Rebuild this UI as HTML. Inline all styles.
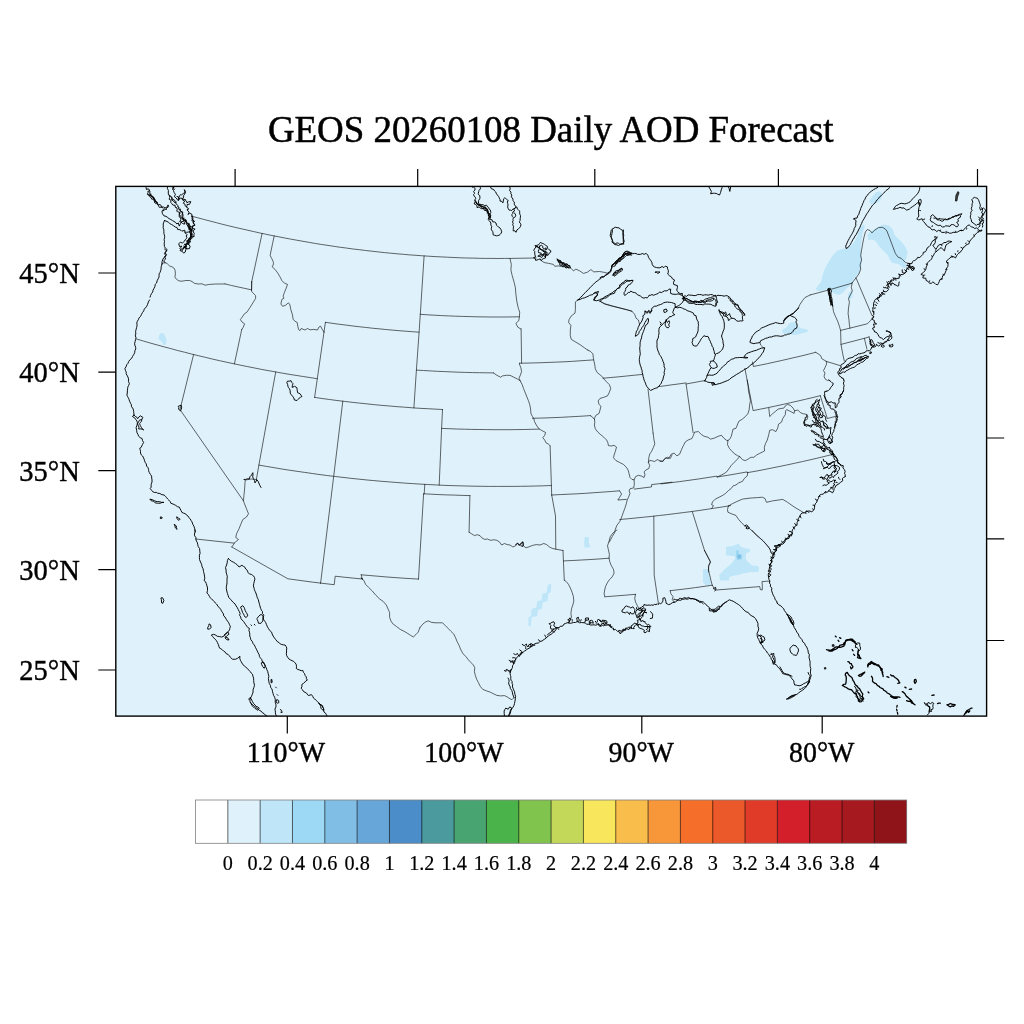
<!DOCTYPE html>
<html lang="en"><head><meta charset="utf-8"><title>GEOS 20260108 Daily AOD Forecast</title>
<style>
html,body{margin:0;padding:0;background:#fff;}
body{width:1024px;height:1024px;overflow:hidden;}
svg{display:block;}
text{font-family:"Liberation Serif","Times New Roman",serif;fill:#000;}
.st{fill:none;stroke:#000;stroke-width:0.6;stroke-linejoin:round;stroke-linecap:round;vector-effect:non-scaling-stroke;}
.co{fill:none;stroke:#000;stroke-width:0.95;stroke-linejoin:round;stroke-linecap:round;vector-effect:non-scaling-stroke;}
.ck{fill:none;stroke:#000;stroke-width:1.3;stroke-linejoin:round;stroke-linecap:round;}
.bl{fill:#000;fill-opacity:0.7;stroke:#000;stroke-width:0.7;stroke-linejoin:round;vector-effect:non-scaling-stroke;}
.a2{fill:#BEE6F8;stroke:none;}
.a3{fill:#9DD9F5;stroke:none;}
.a4{fill:#81BEE5;stroke:none;}
.tk{stroke:#000;stroke-width:1.2;fill:none;}
</style></head>
<body>
<svg width="1024" height="1024" viewBox="0 0 1024 1024">
<rect x="0" y="0" width="1024" height="1024" fill="#fff"/>
<text x="550.7" y="141.9" font-size="36.9" text-anchor="middle" stroke="#000" stroke-width="0.5">GEOS 20260108 Daily AOD Forecast</text>
<clipPath id="mapclip"><rect x="115.8" y="186.4" width="870.80" height="529.70"/></clipPath>
<rect x="115.8" y="186.4" width="870.80" height="529.70" fill="#DFF2FC"/>
<g clip-path="url(#mapclip)">
<path class="a2" d="M160.2 333.2L163.5 333.2L165.2 336.2L166.5 340.0L166.0 344.5L163.5 345.0L162.0 342.0L158.5 338.8L159.0 335.5Z"/>
<path class="a2" d="M726.0 546.9L735.0 545.9L738.8 544.1L741.0 546.9L746.3 548.8L750.0 549.7L749.6 552.1L746.3 552.5L745.3 557.2L746.3 560.9L749.1 562.8L751.9 565.6L757.5 566.0L759.0 568.4L758.4 572.0L721.9 572.0L726.6 567.5L730.3 564.7L733.5 560.9L735.9 558.1L735.0 554.4L731.3 553.4L726.6 552.9ZM703.1 569.0L708.4 569.0L708.4 572.0L703.1 572.0Z"/>
<path class="a2" d="M815.7 288.8L818.1 285.4L821.3 281.6L822.3 276.0L824.1 270.4L826.9 264.8L829.8 260.1L833.5 254.4L837.3 250.7L842.9 248.8L848.5 247.9L854.1 242.3L856.9 236.6L858.8 231.0L860.7 226.3L863.5 224.4L865.0 226.3L862.6 232.9L861.6 240.4L860.7 247.9L861.3 255.4L861.6 262.9L860.7 268.5L858.8 273.2L856.0 276.0L852.3 281.6L850.4 285.4L846.6 288.2L842.9 292.9L839.1 294.8L834.4 293.8L831.6 291.0L826.9 289.1L821.3 291.0L817.6 291.0ZM867.3 234.8L870.1 231.9L874.8 229.1L879.4 226.3L884.1 224.4L888.8 225.4L892.6 229.1L894.4 234.8L898.2 238.5L901.9 242.3L904.8 246.0L907.6 251.6L906.6 257.3L904.8 261.9L906.6 266.6L903.8 268.5L901.0 265.7L897.3 263.8L892.6 262.9L889.8 260.1L887.9 255.4L884.1 251.6L880.4 247.9L877.6 244.1L874.8 240.4L871.0 239.4L868.2 240.4ZM869.1 201.0L871.9 197.3L875.7 192.6L879.4 191.3L882.3 193.5L881.3 198.2L878.5 201.9L874.8 203.8L871.0 204.8ZM848.1 293.8L850.4 291.0L852.6 291.9L852.3 296.6L850.4 299.4L848.1 298.5Z"/>
<path class="a2" d="M726.0 546.9L731.3 546.5L737.8 544.1L740.6 546.9L745.3 548.4L750.0 549.1L749.6 552.1L746.3 552.5L745.3 558.1L748.1 563.8L750.0 566.0L758.4 566.6L759.0 569.4L753.8 570.9L748.1 572.8L742.5 573.5L738.8 575.0L734.1 575.4L729.4 576.9L729.0 580.6L720.0 580.6L719.1 575.0L721.9 572.2L726.6 570.3L730.3 566.6L733.1 562.8L735.4 560.0L735.0 556.3L731.3 555.9L726.0 555.3ZM703.1 569.4L707.8 569.0L708.8 575.0L710.6 580.6L710.6 584.8L705.9 585.3L703.1 582.5L702.8 575.0Z"/>
<path class="a2" d="M549.0 584.0L551.3 584.4L550.9 591.9L548.4 593.8L547.5 601.3L542.8 602.2L541.9 608.8L538.1 609.7L537.2 616.3L531.6 617.2L531.0 625.6L528.4 626.6L528.4 617.2L531.0 616.3L531.6 608.8L536.3 607.8L537.2 601.3L541.5 600.3L542.3 593.8L546.6 592.8L547.5 586.3ZM584.6 537.1L588.8 537.1L589.1 543.1L590.3 547.3L584.6 547.8L584.1 543.1Z"/>
<path class="a2" d="M782.5 329.4L786.2 327.5L789.4 323.1L792.5 321.9L796.2 323.1L797.5 326.2L800.6 328.1L805.0 329.0L808.5 330.2L806.2 332.5L802.5 333.1L798.8 334.4L795.0 335.0L791.9 334.4L789.4 333.8L785.0 334.0L782.2 332.5Z"/>
<path class="a3" d="M735.9 551.0L738.8 550.6L739.1 554.4L742.1 554.8L742.1 558.1L737.3 558.5L736.5 555.3Z"/>
<path class="a3" d="M735.9 550.6L738.8 550.3L739.1 554.4L741.6 554.8L741.6 559.6L736.9 560.0L736.1 555.3Z"/>
<path class="a4" d="M737.8 554.8L741.0 554.8L741.0 557.8L737.8 557.8Z"/>
<path class="a4" d="M737.4 554.8L741.0 554.8L741.0 558.5L737.4 558.5Z"/>
<path class="st" d="M162.0 264.0L163.2 263.0L165.8 262.8L167.6 264.0L169.5 265.9L172.0 266.8L173.9 268.0L175.1 270.2L175.4 274.0L174.9 277.1L176.4 279.2L178.9 280.9L182.0 281.2L185.8 280.5L189.5 280.5L192.0 281.5L194.5 283.4L198.2 284.0L202.0 283.8L205.1 285.2L209.5 284.4L215.8 284.0L222.0 284.0L225.0 283.9"/>
<path class="st" d="M251.7 281.7L251.5 291.2L253.8 293.8L255.6 295.6L255.6 298.5L253.1 302.5L250.0 307.5L246.9 312.2L244.4 313.8L241.9 317.5L240.4 319.6L241.9 321.9L244.6 323.8L243.1 327.5L241.7 329.6M251.6 289.9L251.7 281.7M274.2 235.9L272.5 243.8L270.6 253.1L270.2 255.6L271.9 258.8L273.5 262.5L273.1 265.6L271.9 266.5L275.0 269.4L277.8 273.1L280.0 276.9L281.9 280.6L284.4 283.1L287.5 284.4L286.2 288.1L284.4 292.5L283.1 296.2L284.0 298.1L281.9 299.4L280.9 304.0L282.5 306.2L285.0 305.6L288.5 302.8L290.0 305.0L290.6 308.8L292.5 315.0L293.1 319.4L295.0 321.2L297.2 322.5L297.8 326.2L298.5 329.4L300.0 330.6L301.2 328.5L305.0 330.0L307.5 328.5L310.0 329.8L313.8 329.4L317.5 330.0L318.8 327.2L320.6 326.2L321.9 328.8L324.0 332.1"/>
<path class="st" d="M256.3 480.0L257.0 479.5L251.5 479.0L245.2 480.0L244.5 490.0L243.4 500.8L244.5 503.8L246.5 508.8L248.5 513.8L246.5 517.0L242.8 519.5L241.0 523.8L239.0 528.8L236.5 533.8L235.8 537.5L238.5 539.5L234.1 543.1L234.0 543.8L231.8 547.0"/>
<path class="st" d="M541.3 260.6L544.1 262.5L548.8 263.4L553.4 264.4L554.8 266.3L558.1 265.9L561.9 266.6L569.4 267.2L571.3 268.5L573.5 270.9L575.9 269.1L579.7 270.9L583.4 273.4L587.2 272.3L590.9 269.6L593.8 271.9L599.4 271.5L604.1 272.3L607.4 273.2M510.0 258.4L511.3 264.4L510.9 270.0L512.2 275.6L514.1 282.2L515.4 287.8L515.9 294.4L516.9 301.9L518.4 308.4L519.7 312.2L519.4 316.8L518.8 320.6L515.9 323.4L517.8 327.2L521.0 329.1L521.1 329.0M577.8 300.0L575.4 301.9L575.4 309.4L575.0 313.1L571.3 315.9L569.0 319.7L568.6 322.5L570.9 325.3L570.3 330.0L570.3 335.6L571.3 339.4L575.9 342.2L580.6 345.0L584.4 347.8L588.1 350.3M599.4 300.9L605.0 303.8L612.5 306.0L620.0 307.9L627.5 309.8L632.0 311.3"/>
<path class="st" d="M600.0 301.3L604.7 304.1L611.3 305.9L618.8 307.8L626.3 309.7L631.9 311.2L634.7 314.4L636.0 318.1L638.4 320.0L639.4 323.8"/>
<path class="st" d="M519.6 363.2L519.4 364.1L520.9 367.8L521.6 371.6L520.3 375.3L519.0 378.1L520.3 380.9M493.4 372.9L496.9 375.3L500.6 377.2L502.5 375.9L506.3 375.3L510.0 375.3L513.8 377.2L517.5 379.1L520.3 380.9L522.2 384.7L523.5 388.4L525.4 393.1L526.9 396.9L528.4 400.6L529.7 404.4L530.6 409.1L531.0 413.8L532.5 416.6L533.8 418.4L534.4 421.3L536.3 425.0L538.1 427.8L540.4 429.7L542.8 431.0L545.6 432.5L544.7 435.3L542.8 437.8L544.7 440.0L546.0 442.8L548.4 444.1L550.1 445.8M590.3 415.6L592.5 417.1L594.4 419.4M619.7 491.0L621.6 494.0L619.7 497.2L617.8 500.0L626.3 499.4M587.8 350.0L590.6 351.5L592.9 353.8L593.4 358.4L594.0 361.3L594.8 365.0L595.3 368.8L597.2 372.5L600.0 374.8L602.8 377.2L604.1 379.1L606.6 381.9L609.4 384.7L610.7 388.4L609.4 392.2L607.5 395.9L603.8 397.3L600.0 398.4L598.1 401.0L599.1 404.4L600.9 406.3L600.0 410.0L599.1 413.4L595.9 415.3L594.4 418.4L594.8 422.2L594.4 425.0L595.3 428.8L597.8 432.1L600.9 434.8L603.8 437.2L606.6 440.0L607.9 442.8L608.4 445.6L611.3 446.0L614.1 445.3L616.5 447.1L615.4 451.3L614.1 455.0L613.5 457.8L615.9 460.6L619.7 462.5L623.4 464.4L626.3 467.2L628.1 470.0L629.1 473.8L630.0 477.5L631.9 479.4L634.1 479.8L634.3 484.1L633.8 487.8L630.0 488.8L629.1 491.0L630.0 493.4L628.5 497.2L627.2 500.0L626.3 503.8L624.8 508.4L623.4 512.2L622.1 515.9L621.0 518.8L619.7 521.6L616.9 525.3L615.4 529.1L614.6 532.8L612.2 536.6L610.3 540.3L609.4 542.0M634.1 479.8L635.6 476.6L638.4 475.3L641.3 476.0L644.1 477.5L645.0 474.7L644.1 471.9L645.9 470.0L648.8 468.5L649.7 465.3L648.4 462.5L649.7 460.6L651.6 460.6L654.4 461.6L657.2 459.7L660.0 460.6L662.8 461.6L664.7 458.8L667.5 457.3L670.3 458.4L672.0 455.0M653.1 433.2L654.0 440.0L654.8 443.8L653.4 447.5L651.6 451.3L649.7 454.1L648.8 457.8L648.4 462.5M634.3 489.1L651.6 486.9L651.6 484.6L672.0 482.2"/>
<path class="st" d="M660.0 461.6L662.8 461.0L665.6 457.8L668.4 458.8L671.3 454.1L674.1 453.1L676.9 455.9L679.7 454.1L681.6 449.4L683.4 445.6L685.3 441.9L688.1 440.0L691.9 438.5L693.4 435.3L694.7 432.1L698.4 431.6L701.3 434.4L704.1 436.3L707.8 437.2L710.6 439.1L714.4 438.1L718.1 436.3L721.5 435.3L723.8 438.1L726.6 440.4L727.9 440.4L729.4 439.6L731.3 436.3L732.2 432.5L733.1 429.1L735.9 428.4L737.3 425.0L738.8 421.3L742.5 419.0L745.3 416.6L747.8 413.8L749.1 410.0L749.6 405.3L750.4 400.6L749.6 395.9L748.5 391.3L748.1 385.6L747.2 380.0M727.9 440.4L727.5 444.7L729.4 448.4L732.2 451.6L735.0 454.1L737.8 455.9L739.7 456.5L736.9 459.7L734.1 462.5L731.3 465.3L729.4 468.1L726.6 471.9L723.8 473.8L720.0 475.6L717.2 477.1M739.7 456.5L742.5 459.7L745.3 460.6L748.1 459.1L750.9 457.3L753.8 457.3L756.6 455.0L759.4 453.5L762.2 452.2L764.6 450.9L764.3 447.5L765.4 443.8L767.3 440.0L768.8 434.4L769.7 430.3L772.5 429.7L775.9 431.6L777.8 427.8L778.5 424.1L781.5 422.2L782.8 418.4L785.3 414.7L785.6 410.9L786.6 409.6L789.4 410.9L791.3 411.9L794.1 413.4L794.6 410.9M768.8 408.1L769.7 416.6L772.5 413.8L775.3 411.5L778.1 409.1L780.9 408.5L783.8 408.1L785.3 405.9L787.5 404.4L790.3 405.3L793.1 408.1L794.6 410.9L797.8 410.0L800.6 412.8L803.4 413.8L806.3 414.3L807.8 416.6L807.2 419.4L805.3 420.3M747.8 472.3L747.2 476.0L744.4 478.4L742.5 481.3L738.8 482.8L735.9 485.0L733.1 485.9L731.3 488.4L728.4 490.6L725.6 493.4L722.8 495.3L719.1 497.2L715.3 499.1L712.5 501.9L711.6 504.7L713.4 505.6L712.1 507.9L711.6 508.4M728.4 506.0L732.2 503.8L736.9 501.5L742.5 499.1L750.0 498.1L757.5 497.6L762.2 497.2L765.0 498.5L766.5 502.3L772.5 500.9L782.8 499.4L787.5 502.3L795.0 507.5L804.0 512.8M728.4 506.0L727.5 509.4L727.9 512.2L732.2 514.1L735.9 515.4L738.8 519.7L742.1 523.4L745.3 526.3L748.1 527.2L750.9 530.0L753.8 532.8L756.6 535.6L760.3 538.4L763.1 540.9L765.9 544.1L768.4 546.9L770.3 549.7L771.0 552.9L773.4 554.4M704.5 550.4L710.3 561.5L708.4 566.6L708.8 572.0"/>
<path class="st" d="M851.7 283.3L856.0 277.9L858.8 274.1L860.7 269.4L860.1 264.8L861.6 260.1L860.7 255.4L861.6 249.8L862.6 244.1L863.9 237.6L865.4 231.9L867.3 229.5L870.1 230.6L871.9 232.9L874.8 230.1L878.5 227.6L882.3 227.3L885.1 228.8L886.9 231.0L889.8 238.5L892.6 246.0L895.4 253.5L898.2 257.3L901.0 258.2L902.9 260.1L905.7 262.5L908.5 263.3M856.0 277.9L871.9 315.4M852.3 282.6L851.3 287.3L852.3 291.0L850.4 294.8L848.5 298.5L849.4 302.3L848.5 307.9L848.1 313.5L848.9 319.1L849.4 324.8L850.0 328.1M832.6 306.0L833.5 311.6L835.4 316.3L837.6 321.0L839.5 326.6L840.6 330.4L850.0 328.1L867.3 323.8L871.0 320.1L872.5 317.3M840.6 330.4L841.0 344.4L842.9 354.8L844.4 361.3M841.0 344.4L864.4 338.3L869.1 336.9M864.4 338.3L866.9 349.1M869.1 336.9L871.0 343.5M826.0 361.3L840.1 365.6"/>
<path class="st" d="M616.9 530.0L613.1 532.8L610.3 536.6L609.0 541.3L607.5 545.9L608.4 549.7L609.4 554.4L609.0 558.1L609.8 561.9L611.3 565.6L613.5 569.4L614.1 573.1L612.2 576.9L609.4 579.7L607.5 582.5L605.6 586.3L604.7 590.0L604.1 593.8L604.7 596.0M635.5 594.3L634.7 598.4L635.6 602.2L637.5 605.9L639.0 608.8M670.2 590.7L670.9 593.8L673.1 596.6L672.2 599.4L674.1 602.2M704.5 550.4L710.6 562.3L708.8 565.6L708.4 570.3L709.7 575.0L711.0 580.6L712.1 584.8L713.4 587.2L714.4 589.6L716.3 590.0L759.8 586.6L760.3 589.6L762.2 590.0L762.4 586.3L762.0 581.6L769.7 581.0M751.9 530.0L755.6 533.8L759.4 537.5L763.5 541.3L766.9 545.0L769.7 548.8L771.6 553.4L774.4 554.4"/>
<path class="st" d="M469.1 532.3L471.6 533.8L474.4 535.6L477.2 534.7L480.0 535.6L481.9 537.9L484.7 539.4L487.5 539.0L490.3 540.3L494.1 539.8L496.9 540.3L499.7 542.2L501.6 545.0L504.4 543.5L507.2 544.6L510.0 545.0L512.8 546.9L515.6 545.9L517.5 543.5L520.3 545.0L522.8 542.2L523.5 545.9L525.9 547.8L528.8 546.9L532.5 545.4L536.3 544.6L540.0 545.0L543.8 543.5L546.6 544.6L549.4 546.9L552.2 548.4L555.4 549.1L563.0 550.5M564.3 580.2L566.3 581.6L568.5 584.4L570.4 588.1L572.3 592.8L573.4 596.6L573.8 601.3L572.8 605.0L571.5 608.8L570.9 613.4L571.5 617.2L570.0 620.0L568.5 622.8M361.2 574.8L362.3 579.0M420.0 627.5L422.8 624.1L425.6 621.9L428.4 620.9L431.3 622.3L435.0 622.8L438.8 622.8L442.5 622.8L445.3 625.6L448.1 628.4L450.9 631.3L453.8 634.1L455.6 637.8L457.1 641.6L459.0 645.3L460.9 650.0L463.1 653.8L465.9 656.6L468.4 659.8L470.6 662.2L473.4 665.0L474.8 667.8L474.4 671.6L475.3 675.3L476.6 679.1L478.5 682.8L480.4 686.6L482.8 689.4L486.6 690.9L490.3 692.2L494.1 694.1L496.9 695.4L500.6 695.9L504.4 695.6L507.2 696.9L510.0 698.8L511.9 699.7L513.8 697.8"/>
<path class="st" d="M798.1 308.1L798.8 306.9L800.0 304.4L802.5 300.6L805.0 297.5L810.3 294.9M760.0 342.5L760.6 345.0L762.5 346.9L764.4 348.1M815.7 352.3L818.1 353.8L820.6 355.6L821.9 358.8L825.0 360.6L826.9 361.9L826.2 365.0L825.0 367.5L823.5 370.6L825.0 373.1L824.0 376.2L825.0 378.8L827.5 380.6L828.8 380.0"/>
<path class="st" d="M362.3 579.0L360.9 577.8L363.8 580.3L365.6 584.4L368.4 587.2L372.2 590.9L375.9 595.3L379.7 599.0L383.4 601.6L386.3 605.0L388.1 609.1L389.6 612.5L389.6 617.2L390.9 620.9L392.8 623.8L396.6 626.6L400.3 629.4L404.1 631.3L407.8 633.5L410.6 635.4L413.4 636.9L415.9 634.6L418.1 632.2L420.0 627.5"/>
<path class="co" d="M145.5 186.8L146.2 187.4L146.4 189.5L148.0 188.9L149.2 189.4L149.5 191.1L147.9 191.2L148.1 192.6L147.4 194.2L148.7 195.6L150.2 195.3L152.1 196.7L153.4 197.0L154.5 198.8L154.5 200.3L156.4 201.6L156.4 203.5L157.8 204.4L158.7 206.2L159.4 207.4L161.3 207.1L163.6 207.0L165.0 208.0L167.4 206.7L168.0 204.9L168.7 206.6L166.4 208.3L166.5 209.5L163.7 208.8L163.9 210.8L162.4 210.2L162.0 212.0L162.5 213.8L164.0 215.9L166.0 216.3L167.7 217.5L169.1 218.7L170.9 219.5L172.4 220.5L174.0 221.5L175.6 222.4L176.8 224.0L178.4 222.9L179.2 226.1L180.6 223.6L181.3 222.4L179.7 221.7L180.8 219.8L180.7 217.7L179.2 217.0L179.3 214.6L180.2 212.6L177.6 211.7L176.7 211.2L177.2 209.7L176.8 207.7L175.1 207.2L175.2 205.3L172.8 205.0L171.6 203.4L170.8 202.5L170.9 200.2L169.1 199.2L169.7 197.5L169.6 196.0L168.3 194.2L168.3 192.0L168.4 190.6L167.4 188.3L167.5 186.8M148.2 194.6L150.1 194.9L149.7 196.7L151.0 197.4L151.6 199.1L153.1 199.1L154.4 201.0L154.5 202.5L155.8 203.4M150.8 194.0L150.6 195.7L152.3 197.0L153.6 198.0L155.0 199.7L155.2 201.5L156.4 202.1M172.0 186.8L173.4 187.2L172.8 189.7L173.0 187.9L174.5 186.8M174.5 189.0L173.5 190.5L174.0 192.3L175.4 194.3L174.4 196.6L176.0 197.8L177.0 199.2L178.3 200.7L179.2 199.6L179.6 198.5L178.7 197.6L179.7 195.7L180.3 194.7L181.4 194.9L183.4 193.4L184.5 193.3L184.9 192.0L184.3 189.6L185.5 191.4L185.4 191.9L185.2 193.2L183.9 195.2L183.0 196.2L183.8 196.7L182.5 199.1L185.5 199.6L185.8 201.0L187.2 202.2L186.7 202.8L188.4 201.9L190.8 201.6L189.6 204.3L187.1 204.5L187.0 205.6L186.5 207.2L188.8 208.9L187.0 209.8L189.1 212.3L187.9 214.5L189.7 213.2L191.9 214.3L192.0 216.2M170.8 196.5L171.9 197.7L171.7 200.0L173.3 200.8L174.5 202.5L176.4 202.1M177.0 196.5L178.4 196.8L178.3 200.2L179.2 198.1L180.5 198.2L182.2 198.3L182.4 199.9L184.7 201.0L183.3 203.2L185.0 204.2L185.1 205.8L187.0 207.1M164.5 220.5L167.0 221.5L168.6 222.3L169.7 223.6L171.6 224.5L173.4 225.6L175.2 227.0L177.0 227.5L177.7 229.6L178.9 229.4L181.0 230.3L181.9 231.2L184.7 230.2L184.9 232.2L186.6 232.3L188.5 232.0L190.6 230.6L191.6 229.5L192.6 228.4L192.2 226.4L194.0 225.7L194.6 224.6L193.0 222.1L193.6 220.0L192.1 219.4L192.1 217.8L192.0 216.2M192.0 216.2L193.1 218.1L191.8 220.7L194.6 221.3L193.0 222.9L194.9 225.3L192.1 226.2L192.3 226.9L192.5 228.4L195.1 229.1L193.2 230.7L193.4 232.0L194.3 233.5L193.9 234.7L194.0 236.9L193.1 236.3L192.7 237.6L191.1 238.9L189.9 240.0L190.4 242.1L189.0 243.1L188.3 244.1L190.1 246.1L189.5 248.6L186.7 248.8L185.8 249.4L185.2 252.1L183.9 253.1L181.7 251.2L180.1 250.7L180.6 249.6L179.8 248.4L180.7 247.8L181.7 246.0L179.5 246.6L179.2 245.1L178.6 243.8L180.3 242.3L182.4 243.0L184.7 241.0L185.0 240.0L185.6 239.3L186.4 238.6L186.9 237.8L186.1 235.9L187.3 234.8L186.5 234.1L184.8 232.8M180.1 209.0L180.2 211.1L182.7 211.9L182.6 214.0L183.1 214.9L182.8 216.7L182.5 217.2L182.4 218.7L183.0 219.2L184.0 221.1L180.8 221.9L182.6 223.5L184.4 224.2L184.4 222.2L185.6 221.5L186.5 222.3L187.7 223.0L188.0 223.6L188.4 222.9L189.1 223.7L189.4 224.2L187.0 225.7L189.2 226.2L191.4 226.7L189.4 229.3L190.6 230.3L192.2 230.0L190.3 230.7L189.7 232.2L190.6 233.7L192.7 234.1L190.7 235.2L190.4 237.1L191.7 237.0L191.2 237.6L189.5 238.5L189.2 239.8L186.8 240.6L187.5 243.9L184.3 244.3L186.1 245.2L186.1 246.9L183.6 246.1L187.1 248.9L184.5 247.5L183.2 249.0M179.5 212.8L179.2 214.2L179.7 215.2L181.0 216.4L181.4 217.5L182.3 218.9L183.7 219.8L184.8 221.0L186.1 222.4L186.4 224.4L187.8 225.6L188.5 226.0L189.0 227.9L188.9 229.7L192.0 230.3L189.8 232.7L190.5 233.8L190.6 235.0L191.1 237.1L189.5 238.7L188.0 240.3L188.1 241.7L187.7 243.2L185.4 244.6L185.3 245.7L184.6 247.4L182.9 247.8L182.1 248.7L180.8 249.6M182.0 216.5L182.7 217.0L183.3 219.1L183.3 220.1L186.4 220.3L186.2 221.8L186.9 223.3L187.7 224.0L189.1 224.3L190.0 225.8L189.2 228.6L192.1 229.1L191.8 231.9L191.4 233.5L191.4 235.3L191.0 237.3L189.4 238.0L188.9 238.5L188.6 240.6L187.0 241.8M164.5 220.5L163.8 222.2L163.2 224.0L163.3 225.9L163.1 227.7L163.8 229.7L163.9 231.6L163.9 233.2L164.3 234.9L164.7 236.5L164.5 238.2L164.1 239.7L164.5 241.5L164.2 243.2L164.3 245.0L164.4 246.6L165.7 248.4L167.2 249.7L165.7 251.7L164.5 253.8L166.2 255.9L164.1 257.3L163.0 259.0L162.1 261.5L162.0 264.0M164.5 249.0L166.7 250.8L165.1 252.7L166.5 254.7L164.6 256.6L165.6 259.1L163.6 260.8L165.1 262.8M162.0 264.0L161.5 265.8L161.1 267.2L161.1 269.0L160.6 270.8L160.1 272.3L159.1 273.8L159.1 275.5L159.0 277.1L158.1 278.9L157.1 280.8L156.6 283.0L155.2 284.4L154.9 286.6L154.0 288.4L153.0 290.2L152.7 292.1L151.4 293.7L150.6 295.4L150.1 297.1"/>
<path class="co" d="M149.5 300.0L148.4 301.9L147.6 304.3L146.8 306.2L145.4 307.9L144.2 309.2L143.8 310.8L142.5 312.5L141.5 314.3L140.6 316.3L138.9 318.1L138.3 319.8L137.3 321.3L136.8 323.1L137.1 325.2L136.6 327.6L136.1 329.4L135.6 331.6L135.8 333.9L135.3 335.9L136.0 337.5L135.6 339.5L135.1 341.6L134.6 343.8L135.0 345.6L135.6 347.2L135.8 348.9L134.9 350.7L134.7 352.7L133.8 354.4L132.6 356.3L131.7 358.3L130.0 359.7L128.7 361.5L128.0 363.3L126.8 364.6L126.0 366.8L124.9 368.6L125.4 370.3L126.3 372.2L126.1 373.7L127.4 375.9L128.4 378.2L128.6 380.1L128.5 381.7L129.4 383.7L128.6 385.5L127.8 387.1L127.6 388.8L127.4 390.8L127.3 393.0L126.9 395.1L127.6 396.6L128.6 398.3L129.1 399.8L129.8 401.7L130.6 403.4L131.4 404.8L131.5 406.8L132.7 408.0L133.4 409.9L133.7 411.6L133.8 413.2L134.1 415.0L132.4 416.5L134.5 417.7L135.8 419.5L136.8 420.9L137.4 422.4L137.3 424.0L136.8 425.9L136.1 427.6L136.4 429.0L136.7 430.7L137.0 432.8L138.0 434.5L138.7 436.3L140.2 437.7L142.1 438.5L142.6 440.7L143.6 442.5L142.5 444.4L141.8 446.0L141.1 447.4L139.8 448.2L140.1 449.7L140.5 451.3L140.5 453.0L141.2 454.8L142.6 456.0L143.7 458.1L144.4 460.2L145.3 462.6L146.3 463.9L146.6 466.0L147.8 467.4L148.6 469.2L148.6 470.8L149.4 472.7L150.5 474.5L151.6 476.1L151.7 478.0L152.0 479.9L152.0 482.0L151.3 483.8L151.1 485.3L151.2 487.1L150.2 488.6L151.6 490.3L152.8 491.8L154.3 492.4L156.3 492.4L157.6 493.2L159.9 493.5L161.9 494.7L164.1 495.0L165.4 496.2L166.4 497.4L167.7 499.0L168.8 500.1L170.0 501.4L170.9 503.3L173.2 504.1L175.4 505.2L177.5 506.7L179.4 507.2L180.2 509.0L180.9 510.3L181.9 512.4L183.5 513.1L185.4 513.7L186.4 515.0L187.9 515.9L188.8 517.6L190.2 518.8L191.1 520.6L192.0 521.9L192.8 524.3L194.0 526.4L194.5 528.1L195.2 530.1L195.2 532.0M134.0 415.0L135.3 416.4L136.8 417.2L137.7 418.7L138.8 417.1L140.3 415.8L142.9 417.4L141.9 419.2L141.5 421.2L140.5 422.5L139.6 423.6L140.3 425.7L141.4 427.4L142.4 429.1L143.7 429.9L142.5 429.3L140.6 428.9L138.7 429.0L139.0 427.1L138.2 425.3L137.5 423.8L138.6 421.8L139.3 420.3L141.5 419.5M150.2 499.2L152.4 499.7L154.1 500.6L156.0 501.4L157.6 501.5L159.9 501.8L161.8 502.4L163.9 502.4L162.2 502.4L160.4 503.2L158.6 503.3L157.0 503.1L155.2 502.9L153.7 501.3L151.5 500.8ZM160.8 517.0L162.1 517.3L162.1 518.2L160.7 518.5ZM177.0 517.0L178.4 518.1L180.1 519.1L179.0 520.4L177.3 519.0ZM174.5 524.5L176.3 525.9L176.5 527.7L177.1 529.4L175.4 527.9L175.0 526.3ZM178.5 406.2L181.2 405.2L181.7 407.9L180.5 410.9L178.6 409.3L178.8 407.9ZM287.8 381.2L289.5 381.1L291.0 380.7L291.7 382.3L293.0 383.7L292.4 385.5L292.1 387.4L294.6 386.3L296.8 387.6L297.1 389.1L297.3 390.8L297.5 392.6L300.1 393.8L301.0 395.2L302.0 396.3L300.6 397.3L299.2 398.1L298.1 399.4L297.0 400.5L294.4 400.0L293.8 397.9L292.7 396.4L291.3 394.7L290.2 393.1L290.2 390.9L289.5 388.8L288.5 387.6L287.9 386.2L287.7 384.7L287.0 383.0ZM244.0 479.5L245.7 479.4L247.4 478.8L249.2 479.0L250.0 476.6L251.6 475.0L252.8 472.7L253.0 474.7L252.7 476.9L253.4 478.6L254.5 480.6L255.0 482.9L256.1 481.2L257.0 479.9L258.4 481.8L259.2 484.0L260.0 485.7L261.0 487.5"/>
<path class="co" d="M472.3 187.1L473.6 187.2L475.1 188.4L474.9 190.1L473.6 191.4L474.6 193.4L473.6 194.4L474.2 196.3L475.3 197.2L475.7 198.6L474.6 200.2L475.2 201.8L474.1 203.9L475.8 204.4L477.0 205.9L477.0 207.6L479.1 206.9L480.7 208.4L481.8 208.8L483.6 208.3L484.3 210.3L486.2 210.5L487.3 212.1L487.3 213.4L488.3 214.5L488.9 216.7L488.7 218.9L490.4 219.5L491.9 219.7L492.8 221.9L494.5 221.9L496.0 223.0L496.5 225.3L497.5 226.2L498.9 227.2L500.0 228.0L500.9 229.4L501.7 231.8L501.2 233.1L500.1 234.5L499.2 235.2L497.3 235.7L496.3 235.8L494.6 235.3L493.0 234.7L493.1 233.1L492.6 231.3L491.4 229.9L491.3 228.5L491.7 226.5L490.8 224.9L490.9 223.0L489.6 221.0L488.0 219.5L488.9 218.2L489.8 216.8L490.8 215.8L490.0 213.9L490.8 212.7L490.6 211.1L490.2 209.8L489.0 208.8L488.7 207.7L487.7 206.9L486.5 205.2L484.6 205.6L483.4 204.9L481.5 204.5L479.4 204.2L478.3 203.1L478.6 202.0L478.6 200.4L479.8 198.7L479.9 197.3L479.8 195.6L478.4 194.5L478.3 193.2L478.8 191.5L479.0 190.4L480.4 188.9L480.3 187.5M475.6 200.6L476.2 202.8L477.4 204.4L479.1 204.8L480.2 206.3L481.7 206.4L482.8 206.6L484.9 207.0L485.4 208.5L487.5 209.0L487.8 211.2L488.0 213.0L489.8 214.6L490.5 215.9L490.6 217.5M476.6 202.5L477.5 204.6L479.0 205.6L480.8 205.6L481.4 207.7L482.5 208.1L484.2 208.7L485.7 208.6L487.1 209.3L488.0 211.1L488.1 212.7L489.1 213.8L488.3 215.6L489.7 216.6M490.6 187.1L491.3 188.7L493.7 189.5L494.7 191.1L495.8 192.1L496.5 193.9L497.4 195.0L498.6 196.5L499.4 198.2L500.1 199.7L500.0 201.1L501.7 201.3L502.9 202.9L503.3 200.9L503.8 198.6L504.7 197.8L505.6 198.3L506.4 199.2L508.3 200.7L507.2 202.0L507.8 203.7L508.0 205.1L507.6 207.1L508.3 208.7L509.2 210.2L510.7 210.0L511.4 210.8L512.8 209.1L514.7 208.6L515.4 207.8L516.8 206.9L517.4 209.1L518.4 210.0L519.8 211.1L519.6 212.8L519.9 214.3L520.5 215.7L520.4 217.4L520.1 219.0L520.1 220.6L519.5 221.6L519.8 223.0L521.0 224.2L520.6 226.2L519.8 227.6L518.6 228.6L517.0 229.9L516.0 232.3L514.9 230.8L513.1 230.8L513.3 229.3L513.3 228.1L513.5 226.3L512.6 224.8L513.3 223.8L512.5 222.0L513.2 220.5L512.9 219.2L513.6 217.8L512.2 216.3L511.8 214.7L512.8 213.5L512.8 212.0L514.6 210.9L513.8 209.1L515.3 207.9L515.7 206.2L514.5 204.9L514.2 203.3L514.4 202.0L512.8 200.5L513.0 199.2L512.4 198.0L511.3 196.9L511.8 195.1L510.8 193.6L511.0 192.1L509.6 190.6L510.2 188.8L509.8 187.1M514.1 212.8L515.3 213.8L515.7 215.8L514.6 217.5M535.3 245.6L536.7 245.4L538.4 244.9L539.6 243.5L540.3 242.5L542.3 243.3L543.8 243.9L544.4 244.3L545.7 245.4L547.4 246.4L547.3 248.1L548.2 248.7L549.0 249.7L550.7 250.7L550.8 252.1L549.2 253.1L548.5 254.8L547.5 255.4L545.4 255.1L545.5 258.0L543.9 258.4L542.2 259.3L541.2 260.7L540.3 258.9L538.4 259.5L536.9 260.0L535.7 260.4L535.3 258.6L533.5 257.7L535.6 256.8L534.9 254.8L534.8 254.0L534.7 252.9L534.7 251.3L533.8 250.4L534.4 249.0L535.8 247.2ZM536.6 246.6L538.2 247.3L539.4 248.1L538.9 249.7L538.3 251.4L538.5 252.6L541.3 253.2L540.2 254.8L537.8 256.2L540.1 256.4L541.6 257.6L542.7 256.2L543.3 254.0L544.7 254.3L546.1 253.4L545.3 251.4L545.0 250.5L545.5 249.2L546.7 249.7L546.0 247.9L544.3 248.8L542.6 247.7L542.9 246.4L541.5 245.3L540.0 246.0L539.4 245.9L539.6 247.9L540.8 248.8L541.7 250.2L542.7 250.5L544.0 251.8L544.9 252.4L544.5 253.6L543.0 254.2L542.2 255.0M557.2 258.8L558.0 260.0L558.4 262.2L561.1 262.0L562.3 263.4L563.8 263.1L564.7 264.8L566.4 264.0L567.4 265.2L569.4 265.6L570.6 267.6L569.1 268.0L567.8 267.5L565.9 268.0L564.2 265.9L562.6 266.7L562.0 265.2L559.9 265.2L559.6 263.2L559.0 262.1L557.8 260.6M558.1 259.7L559.0 260.9L559.6 261.6L560.8 262.3L562.5 263.3L563.1 265.3L565.2 265.3L566.6 265.4L567.1 267.4L568.4 267.3L569.9 265.8L568.2 265.5L567.2 263.9L565.7 264.0L563.8 262.7L562.3 262.5L561.4 261.6L560.0 260.3M577.8 300.0L579.4 298.7L580.7 297.2L582.3 295.8L583.7 294.1L585.4 292.5L586.9 291.0L588.3 289.4L590.0 287.8L591.5 286.2L593.1 284.6L594.6 283.0L596.1 281.8L597.8 280.6L599.3 279.4L600.9 278.5L601.8 277.3L603.8 277.0L605.0 275.7L606.5 274.5L607.9 272.7L610.0 271.8L610.7 269.8L611.7 267.9L611.6 266.2L612.8 264.6L614.1 263.4L614.9 262.3L616.4 261.0L618.4 261.2L619.5 259.3L621.0 257.7L622.4 256.7L622.9 254.8L623.6 253.6L624.7 252.1L626.1 251.3L627.3 251.1L629.1 252.2L630.5 253.1L632.0 253.1M612.5 265.3L614.3 263.7L616.7 263.8L617.3 261.6L619.0 260.5L620.1 259.8L622.0 258.8L623.3 257.4L624.4 255.4L625.7 254.4L627.4 253.5L629.2 254.6L631.6 255.1L629.7 253.6L627.6 252.9L625.9 253.8L623.9 253.8L622.4 255.5L621.2 257.0L619.4 258.4L617.9 259.3L616.6 260.9L615.3 262.1M577.8 300.0L580.2 299.4L582.3 298.3L584.4 297.9L586.2 297.1L588.1 296.3L589.5 295.4L591.2 294.9L592.8 294.6L594.7 292.5L596.6 292.1L598.6 291.4L597.6 293.4L597.3 295.4L596.0 296.3L594.7 297.2L593.7 300.1L596.7 300.8L599.4 299.9L601.2 298.9L603.4 298.3L604.5 296.8L606.4 296.1L608.3 295.1L609.4 294.2L611.1 293.4L612.8 292.4L614.2 291.0L615.9 290.3L616.7 289.1L618.5 287.9L619.6 286.8L619.5 285.1L620.9 284.4L622.0 282.9L623.5 282.7L624.6 280.9L626.3 280.1L628.5 280.6L630.1 280.7L632.0 280.3M593.8 293.4L596.4 292.6L597.4 294.8L596.6 296.4L595.3 297.9L594.1 300.0M613.4 273.8L614.3 272.4L616.2 272.6L617.4 271.6L618.6 270.1L620.1 269.3L621.7 268.1L622.7 270.0L621.4 271.0L619.7 272.1L618.3 273.0L616.7 274.5L614.5 276.0ZM612.5 228.8L614.0 228.1L615.2 227.2L617.1 227.7L619.0 227.9L620.7 229.3L622.8 230.5L623.0 233.0L623.8 235.2L623.1 237.6L623.3 240.0L623.3 242.0L623.8 244.2L621.8 243.6L619.9 244.4L618.6 243.3L617.1 242.9L615.4 243.6L613.5 242.7L612.6 241.0L611.8 238.9L611.0 237.2L611.6 235.3L612.0 233.3L612.4 231.1Z"/>
<path class="co" d="M611.3 230.0L610.9 231.8L610.5 233.8L610.2 235.7L611.4 237.4L612.1 239.5L612.5 240.7L611.9 241.9L613.2 243.3L614.9 244.6L617.0 244.9L618.5 245.5L620.4 244.4L622.2 244.2L623.1 243.3L624.2 241.7L623.7 239.4L623.3 237.2L622.8 234.7L623.3 232.3L623.4 230.0M600.0 277.8L601.6 276.7L603.8 276.6L605.5 275.2L607.5 274.5L609.2 273.1L610.9 271.5L611.3 269.7L611.9 267.5L611.8 266.0L612.3 264.6L614.1 264.2L614.8 262.9L616.7 261.9L617.4 260.8L618.3 259.5L619.6 258.3L621.6 256.9L622.9 255.6L623.4 253.8L624.3 252.4L626.2 251.7L628.0 252.2L629.8 252.1L631.4 253.6L632.7 253.7L634.6 253.4L636.0 253.5L637.4 254.3L639.0 254.4L640.8 254.3L642.2 253.5L644.2 254.3L646.2 253.4L647.8 255.1L648.5 257.3L649.5 258.9L650.9 260.7L651.9 262.4L652.1 264.2L653.0 265.9L654.7 267.0L656.4 267.5L658.0 267.8L659.9 267.8L662.1 266.5L663.9 267.6L665.3 266.1L667.4 266.9L667.6 268.8L668.3 270.5L668.3 272.2L667.7 274.0L669.6 275.8L671.5 277.0L672.3 278.7L674.6 280.0L673.5 282.3L673.6 284.3L675.0 284.9L677.4 285.6L677.4 287.7L676.7 290.1L677.5 291.4L678.8 292.9L680.3 293.6L682.4 293.4L682.2 295.3L683.4 296.6M611.6 266.6L612.8 265.0L614.0 263.5L615.2 263.0L616.7 262.4L617.3 260.6L618.7 259.3L619.7 258.2L621.7 257.8L622.7 256.3L623.8 255.3L624.6 254.2L626.3 253.8L627.8 254.3L629.9 254.1L632.0 253.1L630.4 254.3L628.3 255.4L626.5 255.5L625.3 256.6L624.3 257.5L622.8 258.9L621.0 259.5L620.6 261.2L618.4 261.9L617.2 263.0L615.8 264.1L615.0 266.1L613.3 266.2L612.4 267.1M612.8 275.0L613.7 274.0L614.9 272.8L615.4 271.2L617.2 270.5L619.0 270.3L619.7 269.1L621.4 269.0L621.8 268.2L621.0 269.4L620.3 270.5L618.8 271.2L617.5 272.7L616.4 273.3L614.8 274.2L613.8 274.9ZM655.3 272.2L657.6 271.9L660.0 272.0L657.9 273.5L656.6 272.3ZM600.0 301.3L601.3 300.2L602.7 299.0L604.4 298.2L606.2 297.9L608.0 296.5L609.3 295.3L611.0 294.3L612.4 293.8L614.4 293.3L615.1 291.6L616.1 290.0L617.5 288.4L619.6 288.1L620.2 286.6L621.2 285.2L622.5 284.2L623.9 283.5L625.3 282.5L627.0 281.1L629.4 281.1L631.1 280.5L633.1 280.4L632.5 281.7L631.0 283.7L629.4 284.6L627.9 285.4L627.2 287.1L625.7 288.1L625.7 289.6L625.1 291.2L624.1 292.5L624.1 294.3L624.6 295.4L625.9 294.8L626.7 293.9L628.3 292.6L629.8 292.4L630.7 291.1L632.7 292.2L634.7 292.6L636.2 293.2L637.2 294.6L638.8 295.3L640.5 296.1L642.1 297.5L644.0 298.2L645.2 297.6L647.2 297.9L648.3 296.8L648.9 295.4L650.7 295.2L652.0 294.5L653.4 295.3L655.2 294.6L656.8 294.0L658.2 293.5L659.6 291.9L661.3 292.6L662.8 291.8L664.4 290.8L666.1 290.9L667.7 290.6L668.9 289.2L670.7 289.1L670.5 291.5L670.7 293.5L672.9 294.2L675.0 294.3L676.6 294.3L678.0 293.8L679.6 294.4L681.9 295.3L683.4 296.6M639.4 324.7L638.9 326.1L638.0 327.6L637.8 329.3L636.5 331.2L635.9 333.3L635.6 334.8L635.3 336.3L637.5 335.1L638.7 333.6L639.2 331.7L640.3 330.3L641.4 328.8L642.0 327.4L643.5 325.8L644.2 324.4L644.9 322.6L646.0 320.9L647.0 319.2L648.1 318.3L648.6 320.0L648.2 322.2L647.4 324.1L645.7 325.2L645.1 326.7L644.6 328.0L644.1 329.8L643.4 331.6L642.7 333.2L641.9 335.5L641.5 337.9L640.7 340.2L640.1 342.4L640.1 344.4L640.0 346.4L639.7 348.0L639.9 350.1L640.0 351.9L640.3 353.8L639.9 355.7L639.5 357.4L639.3 359.5L639.4 361.4L639.8 363.2L640.2 365.1L641.0 366.9L641.4 368.8L642.1 370.5L642.2 372.6L642.8 374.3L643.0 376.3L643.7 378.2L644.0 379.9L644.7 381.5L645.5 383.1L645.9 384.7L646.9 386.6L648.5 388.4L650.6 390.5L653.4 389.1L655.2 388.3L657.3 387.8L658.9 386.3L660.3 384.5L661.4 383.1L661.8 381.4L662.8 380.0L663.2 378.0L663.7 376.1L664.4 374.4L664.1 372.6L664.5 370.5L665.0 368.7L664.1 366.8L664.1 365.1L663.8 363.0L663.0 361.6L662.6 359.9L661.8 358.5L661.0 356.4L659.4 354.8L658.9 352.8L658.0 350.9L657.3 348.7L656.9 346.2L657.1 344.4L656.9 342.6L657.1 340.0L658.3 337.9L658.5 335.5L659.1 333.1L658.8 331.2L659.0 329.5L659.1 328.1L660.1 326.7L662.0 325.0L663.2 323.5L664.2 322.6L666.0 321.2L666.7 319.3L668.4 318.4L669.5 316.6L671.3 316.6L672.9 315.3L674.9 314.7L673.4 313.7L672.7 312.3L673.0 311.5L673.7 310.0L674.1 308.2L675.4 307.3M666.0 320.0L665.7 321.7L665.1 323.9L665.4 325.6L666.5 327.4L668.2 327.8L669.4 326.6L668.7 324.9L669.6 322.3L669.1 320.7L667.5 322.2ZM660.0 321.9L661.3 323.3L660.4 324.7M639.4 324.7L640.7 322.8L641.9 321.0L642.6 319.0L643.2 317.7L642.8 315.8L644.7 314.5L644.9 312.8L644.9 311.0L646.9 312.2L648.3 311.3L648.6 310.4L649.6 310.9L650.2 312.1L652.0 310.9L651.5 309.1L652.3 307.8L654.3 306.3L656.6 306.1L658.2 305.2L660.3 304.6L662.3 303.8L663.6 302.8L665.8 302.2L667.4 302.1L669.6 302.3L671.6 302.5L673.1 303.1L675.2 303.8L675.1 305.8L675.4 307.3M645.4 311.0L646.2 312.6L646.9 313.4L647.6 312.8L648.5 311.6L649.1 312.1L650.1 313.4L650.8 312.2L651.4 310.3M664.1 309.7L666.3 309.0L667.3 311.1L665.3 312.4L664.4 312.3ZM675.4 307.3L676.8 306.4L678.7 305.6L679.8 304.9L681.1 303.7L682.4 302.6L683.2 301.0L684.0 299.5L684.1 298.2L683.5 296.4L685.1 295.8L686.5 296.4L688.1 294.9L689.8 295.1L691.8 295.2L693.9 295.6L695.8 295.5L697.4 294.7L699.4 294.5L701.3 294.7L703.0 295.3L704.8 294.8L706.9 294.9L708.7 295.1L710.6 294.5L712.3 294.7L714.4 295.8L716.5 296.0L718.0 295.2L719.9 295.6L721.6 295.5L724.0 296.2L725.6 295.7L727.5 295.8L729.0 296.8L730.2 297.8L731.0 299.8L732.7 300.3L733.6 301.8L734.8 303.4L736.3 304.2L737.7 305.2L738.7 307.0L739.4 308.5L740.4 309.6L741.8 310.4L742.7 312.5L744.2 313.8L744.9 315.1L743.5 315.3L742.4 316.2L742.4 318.1L742.6 319.5L743.1 320.6L741.9 321.0L740.6 320.8L738.5 321.3L736.5 320.8L735.2 319.1L733.1 318.3L731.1 318.3L730.1 319.4L728.4 320.5L728.0 317.9L726.5 317.0L725.4 314.5L724.4 313.1L722.7 312.2L720.8 311.9L719.2 311.3L718.6 310.8L719.5 311.7L720.0 313.1L720.5 314.7L722.0 316.4L722.8 318.4L723.6 320.2L724.0 321.7L724.3 324.0L724.3 325.9L724.3 327.8L724.0 329.3L723.1 331.3L722.3 333.7L721.5 336.0L722.2 338.2L722.9 340.5L723.1 343.1L723.7 345.3L723.2 347.2L722.6 349.0L721.4 350.5L720.1 351.8L718.2 353.1L716.3 353.7L715.6 354.2L715.1 355.8L714.5 357.5L714.1 359.2L713.4 360.9M682.5 298.4L684.5 298.7L686.3 300.3L688.2 301.6L690.0 302.0L691.8 301.9L694.0 302.1L695.8 302.9L697.4 302.0L699.2 302.6L701.0 302.3L702.9 301.9L704.2 301.6L705.9 301.0L707.6 299.9L709.2 299.9L710.8 299.3L712.4 298.5L714.1 298.6L715.8 300.1L716.2 302.4L715.9 303.9L715.9 306.2L714.2 306.0L712.4 305.2L710.9 304.3L708.5 304.1L706.7 304.1L704.9 303.9L703.2 304.9L701.0 304.4L699.2 304.5L697.6 304.4L695.6 304.5L693.8 303.3L692.1 303.4L690.2 303.3L688.7 303.3L687.6 301.9L685.8 300.6L684.0 300.1ZM683.4 297.5L685.3 298.5L687.4 298.9L689.2 300.1L691.0 300.7L692.7 301.5L694.8 301.6L696.3 301.3L697.7 301.5L699.7 301.5L700.6 300.4L702.9 300.8L704.4 299.9L705.4 298.9L707.0 298.8L708.8 297.9L710.3 297.8L711.9 297.0L713.5 296.8L715.3 295.1L716.1 296.8L716.6 298.7L716.8 300.1L717.7 302.5L716.1 303.3L716.3 305.0M720.0 311.0L721.4 312.4L723.0 314.3L724.2 313.3L725.7 311.9L726.2 314.0L727.6 315.6L729.5 313.6L730.2 316.0L731.3 317.8M735.0 304.1L736.5 305.1L737.9 304.7L738.6 307.1L739.9 308.5L740.1 310.1L742.2 311.1L742.9 311.9L744.1 313.1L744.8 314.8M675.4 307.3L677.3 307.8L679.8 307.3L681.4 307.7L682.7 308.3L684.1 309.1L685.7 309.5L687.1 310.6L689.2 311.3L691.2 312.0L693.4 313.1L694.1 315.1L696.1 315.8L696.4 318.1L697.2 320.2L698.4 322.0L698.2 323.6L698.6 325.4L698.2 326.8L698.2 328.2L698.1 330.7L697.4 333.1L696.4 335.0L695.7 336.9L694.3 337.8L692.7 338.6L692.7 340.7L692.0 342.4L692.6 343.9L693.1 345.4L694.8 346.0L696.6 346.1L697.8 344.4L699.3 342.3L700.3 340.6L701.2 338.8L702.7 337.3L703.9 335.7L705.9 336.5L707.9 336.4L708.8 338.0L709.4 339.8L710.3 341.2L710.8 342.9L711.6 344.3L712.0 346.1L713.1 347.5L713.4 349.0L714.2 351.4L714.5 353.9L715.3 354.1M710.6 361.3L713.5 360.8L714.7 362.3L716.2 363.4L716.9 365.0L717.3 367.0L715.8 367.6L714.4 368.3L712.6 368.3L711.2 367.6L710.4 366.3L709.4 364.5L710.3 362.9ZM711.0 367.8L709.8 369.6L708.8 371.7L708.0 373.5L707.0 375.3L706.7 377.3L705.8 378.9L704.6 380.9M704.6 380.9L706.3 381.3L707.8 382.2L710.2 382.5L712.7 382.7L714.4 384.8L716.2 384.5L718.0 383.9L719.8 383.5L721.4 383.0L722.9 382.4L725.1 381.5L727.4 380.6L729.4 379.6L731.0 378.0L733.1 376.7L735.0 375.5L736.6 374.4L738.1 373.6L739.7 372.6L741.2 371.5L742.9 370.8L744.2 369.4L746.0 368.9L747.6 367.7L749.2 366.6L750.7 364.8L753.0 363.6L754.8 362.0L756.6 360.2L757.9 358.5L759.5 357.3L760.9 355.4L761.9 353.7L763.3 352.0L764.0 349.9L764.8 347.8L763.0 348.0L761.3 348.1L759.7 348.9L758.1 349.4L756.7 350.2L754.2 350.8L751.8 351.6L750.1 352.2L748.2 352.9L746.6 353.6L745.4 354.9L743.8 357.2L746.2 357.3L748.0 357.6L746.3 358.1L744.4 357.9L742.1 357.5L739.6 357.5L737.4 357.7L735.1 357.8L733.2 358.9L731.3 359.3L729.5 360.8L727.3 362.1L726.5 363.6L725.1 364.8L723.7 365.9L722.3 367.0L721.2 368.4L720.1 369.8L718.4 371.4L717.1 373.2L715.3 374.2L713.5 375.0L711.6 375.3L709.8 375.0L707.3 375.3M712.1 383.0L713.9 382.5L714.9 384.1L712.8 385.2Z"/>
<path class="co" d="M744.8 525.9L746.6 524.8L748.0 526.3L749.5 528.1L747.8 528.9L745.9 528.2L747.2 526.6M843.8 380.0L844.1 381.4L843.4 383.1L843.6 384.1L844.2 385.7L843.6 387.6L843.7 389.3L843.4 391.3M826.5 391.3L828.4 390.5L829.8 389.2L830.7 387.4L832.2 386.0L833.4 383.6L832.1 382.8L831.0 381.7L828.8 380.0M845.3 476.6L843.4 477.6L842.3 478.5L842.8 480.7L840.6 482.3L839.0 483.6L838.1 484.4L835.7 485.7L835.2 487.3L834.2 488.3L833.8 490.5L832.7 492.8L830.9 491.8L829.0 490.8L827.2 492.2L825.1 491.9L823.4 494.1L821.6 494.3L819.8 495.0L819.1 496.6L818.4 497.7L818.5 498.6L817.1 500.2L816.9 502.1L815.6 503.3L814.5 505.8L814.6 507.2L814.3 508.9L813.8 510.0L811.8 511.8L810.0 511.1L808.3 511.0L805.9 511.9L804.2 512.9L802.0 512.9L800.4 514.8L799.4 517.0L798.2 518.8L798.1 521.0L797.1 522.3L797.1 524.8L795.0 526.2L794.0 528.1L792.6 529.5L792.1 531.3L792.3 534.1L789.4 535.2L788.2 536.9L787.4 538.6L785.6 538.9L784.4 541.2L782.6 542.3L781.2 543.6L779.8 544.5L777.9 545.4L776.7 547.0L775.8 548.4L775.1 549.9L775.2 551.6L773.9 553.6L772.6 555.3L772.1 557.4L771.1 558.5L772.1 560.9L771.3 562.8L770.1 564.0L771.6 565.6L770.2 567.5L771.4 569.1L770.0 570.7L770.6 572.0"/>
<path class="co" d="M877.6 187.5L875.5 188.6L873.7 189.6L871.8 190.9L869.9 192.4L868.3 193.9L867.2 195.5L865.8 197.1L865.0 199.2L864.0 200.5L863.4 202.4L862.6 203.9L862.1 205.5L861.3 207.0L860.7 208.5L860.2 210.3L859.4 212.1L858.9 214.2L857.7 215.8L857.0 218.1L855.1 218.2L853.4 218.9L854.6 219.5L856.1 220.6L855.7 223.1L855.8 225.3L855.2 226.9L854.2 228.5L853.9 230.1L852.9 232.2L851.7 234.4L850.5 236.3L849.3 238.5L848.3 240.3L847.4 242.1L846.6 244.1L845.7 246.0L846.1 248.5L848.2 247.4L849.3 245.8L850.5 244.4L851.3 242.5L852.2 241.0L853.0 239.3L854.1 238.0L854.8 236.2L856.1 234.7L856.9 233.0L858.0 231.1L858.9 229.1L859.9 227.4L860.6 225.4L861.6 223.5L862.3 221.6L863.4 219.8L864.5 217.9L865.5 216.1L866.6 214.1L867.9 212.3L868.9 210.8L869.8 209.2L871.0 207.6L872.0 205.9L873.5 204.4L874.9 203.1L876.0 201.4L877.2 199.7L878.7 198.3L879.6 196.8L881.1 195.7L882.3 194.5L883.6 193.3L884.8 191.9L886.0 190.5L888.0 189.2L889.8 187.5M828.3 288.8L830.1 288.1L830.6 289.7L831.5 290.9L831.0 292.7L830.9 294.7L831.3 296.6L831.9 298.5L832.1 300.8L832.3 303.3L832.8 306.2L831.2 304.0L830.6 302.4L830.3 300.4L829.6 298.5L829.4 296.5L829.0 294.8L828.3 292.8L828.3 290.7ZM829.4 289.5L829.6 291.2L829.9 293.0L830.5 294.8L830.3 296.7L830.6 298.5L831.4 300.3L831.6 302.2L832.0 304.1M828.8 291.0L829.5 292.9L829.7 294.7L830.0 296.6L830.8 298.6L831.1 300.4L831.6 302.3M909.4 263.8L909.8 265.7L909.3 267.8L907.5 267.8L906.3 270.1L906.0 272.1L905.0 272.9L902.9 274.5L900.9 274.5L899.2 276.2L899.2 278.2L896.8 278.5L894.3 278.0L893.7 280.4L892.0 279.9L890.9 280.1L889.9 283.2L888.0 284.2L886.5 285.4L888.6 286.6L887.5 287.3L888.5 289.5L886.7 291.5L885.7 291.7L883.1 291.6L881.9 293.2L880.0 295.1L879.4 296.8L879.2 297.8L875.6 299.2L874.7 300.3L874.5 301.1L873.6 303.2L873.6 306.4L872.8 307.8L872.9 309.5L872.9 311.0L874.1 314.1L872.5 315.8L874.0 316.7L872.1 319.3L874.5 320.7L874.1 322.2L876.6 323.9L873.4 324.1L874.6 327.3L872.6 328.1L873.2 329.8L874.2 330.3L874.6 332.0L876.0 332.2L877.2 333.2L878.1 334.7L878.8 336.1L879.8 337.5L881.5 338.0L883.4 339.6L885.0 338.1L886.7 336.9L887.9 336.4L889.5 336.2L890.0 334.5L891.2 333.2L890.0 332.1L888.8 331.6L887.6 331.2L885.9 331.0L887.5 331.2L888.8 332.0L890.2 332.5L891.1 334.6L891.7 336.3L891.9 338.1L890.4 339.6L889.5 340.5L887.6 340.4L886.5 341.6L885.5 341.8L884.2 343.1L883.0 343.8L881.1 344.1L880.1 345.0L878.4 346.1L876.4 344.2L876.2 345.8L874.8 346.9L873.4 346.9L871.7 347.0L871.0 349.3L869.5 350.7L867.6 350.7L866.3 350.8L865.6 351.9L863.9 352.8L862.5 353.1L861.4 353.4L859.5 353.9L858.1 353.7L856.8 355.3L855.7 355.3L854.4 355.9L853.0 357.2L850.9 357.8L849.2 358.2L847.7 358.7L846.0 360.5L845.4 361.8L844.4 362.7L842.8 363.9L841.3 364.6L840.8 365.8L841.2 367.9L839.5 368.7L839.7 370.3L838.2 371.3L837.8 373.0L838.5 374.1L839.1 375.6L839.9 376.3L841.2 377.1L841.9 378.0M870.1 340.7L871.7 339.6L872.6 341.1L873.2 342.8L874.3 344.1L874.7 345.1L873.6 346.5L873.1 347.3L872.3 345.8L870.6 345.3L870.2 343.8L870.1 342.5ZM881.3 345.8L882.6 344.9L883.9 345.3L884.4 346.4L883.8 346.9L882.5 347.1ZM889.4 345.0L891.1 345.3L892.5 343.9L893.0 346.1L891.7 346.8L890.2 346.8ZM870.6 351.9L871.6 352.2L871.4 353.1L870.1 353.5ZM841.0 370.7L841.7 369.1L843.5 368.0L845.0 367.2L846.1 366.4L846.9 364.9L848.8 364.5L849.4 363.2L850.8 362.2L852.3 361.5L854.3 361.1L855.7 359.2L857.0 358.3L858.4 357.8L859.7 357.2L861.4 356.6L862.9 356.9L864.3 355.7L866.2 355.3L867.3 356.4L868.3 356.2L868.1 357.9L866.3 358.6L865.4 359.7L864.0 360.9L862.8 362.0L861.2 362.3L860.1 363.4L858.6 363.9L856.7 364.8L855.9 365.8L854.5 367.2L852.7 367.6L850.7 368.4L849.4 369.0L847.6 370.2L846.3 370.6L844.9 372.4L843.4 371.9L841.8 372.3L841.2 373.6L839.1 373.6L840.0 371.9ZM843.8 368.8L845.1 367.7L846.9 367.4L848.4 366.9L849.4 366.2L850.9 364.4L852.2 364.3L853.5 363.3L854.6 362.7L856.2 362.2L857.5 360.7L858.5 360.4L860.8 360.7L861.6 358.9L863.3 359.2L864.7 358.3L866.3 357.0M857.9 360.4L859.6 359.4L861.0 357.1L862.7 358.9L861.1 360.4L859.8 361.3M909.4 263.8L911.9 263.5L912.5 261.8L913.7 260.5L914.5 260.6L916.7 259.1L917.7 257.3L919.8 257.6L920.5 256.6L921.8 255.6L923.0 254.3L923.3 252.4L925.3 251.8L926.2 250.7L926.8 249.0L927.4 247.7L929.1 246.6L930.4 245.3L930.9 244.0L931.6 242.5L932.8 240.7L934.4 240.0L935.4 238.3L934.6 236.7L935.3 236.5L936.6 237.4L937.1 236.7L936.7 238.7L935.2 239.8L935.3 242.4L934.2 244.5L932.9 245.2L933.5 246.6L934.6 247.5L935.8 249.5L937.2 247.4L938.4 245.3L940.0 244.6L942.3 244.3L943.7 242.6L946.0 242.5L947.8 241.2L949.2 241.0L951.8 241.6L949.5 242.6L947.6 243.9L946.1 244.9L945.4 247.1L944.9 249.0L944.5 250.8L942.9 249.5L941.2 247.5L939.9 248.4L938.7 249.7L937.1 250.7L935.1 252.5L934.3 253.6L933.7 254.9L932.8 256.3L932.1 257.7L931.6 259.0L930.1 260.5L928.8 261.4L927.8 262.5L927.2 263.9L927.1 265.4L926.1 267.0L926.1 268.8L924.5 271.5L923.6 272.2L920.9 274.4L923.5 275.4L922.8 277.9L925.9 278.3L926.1 280.5L927.7 281.1L928.7 282.5L930.0 283.4L931.5 283.2L932.9 281.9L934.8 283.4L935.6 284.2L937.7 284.8L938.3 283.7L939.2 281.7L940.0 279.5L941.7 279.1L942.3 277.6L942.7 275.7L944.5 274.5L945.4 272.1L946.1 270.5L946.7 268.2L947.7 266.6L948.1 264.7L947.3 262.6L946.3 261.1L948.5 259.4L949.9 257.9L951.1 257.1L952.9 256.6L953.9 256.8L955.6 257.9L956.5 255.9L957.2 254.8L958.7 253.3L960.4 252.2L961.2 250.8L962.4 249.8L963.0 247.6L964.6 246.9L965.5 245.4L967.3 244.5L969.0 243.7L969.5 241.8L970.6 240.0L971.8 238.8L972.5 238.0L973.7 236.8L974.6 235.3L975.8 234.0L977.4 232.4L979.5 231.3L981.8 230.9L981.9 229.9L980.5 230.4L978.9 230.6L977.6 228.4L976.5 227.9L974.7 228.5L972.9 227.1L971.6 227.1L970.3 225.8L969.2 224.9L967.5 225.6L966.9 226.5L965.8 227.4L964.2 229.2L963.3 230.6L961.1 230.3L959.0 231.0L957.6 232.0L955.3 232.4L953.2 232.3L951.6 233.1L949.4 233.2L947.8 232.2L945.9 233.2L944.5 232.4L941.8 232.4L940.2 230.9L938.3 230.3L936.8 231.6L935.2 230.2L933.9 229.5L932.2 229.9L930.8 228.8L930.1 227.4L928.1 226.9L927.3 225.7L926.1 224.9L924.9 223.0L923.5 221.6L922.6 220.4L922.1 218.7L920.3 219.4L918.8 220.0L916.7 218.8L918.1 217.5L918.8 216.0L918.6 214.1L918.4 212.2L918.6 210.0L918.9 207.6L919.8 204.7L918.9 201.7L917.3 202.9L916.1 204.1L914.3 205.4L912.4 206.7L910.7 207.9L909.3 209.2L906.6 210.1L905.3 209.2L904.0 207.9L902.0 208.1L899.9 207.3L898.3 208.2L896.4 208.5L894.8 209.1L893.3 209.4L894.4 208.0L895.2 206.5L896.5 205.5L898.2 204.7L899.6 203.8L901.1 203.3L902.9 203.5L904.8 203.9L906.7 203.4L908.5 202.7L910.0 201.9L911.2 200.6L912.5 198.9L914.2 197.2L915.6 195.8L916.9 194.6L917.9 193.2L918.8 191.5L919.5 189.6L919.8 187.5M918.8 200.1L920.7 199.3L921.2 201.1L921.0 202.8L920.4 204.3L920.1 205.4L918.9 204.7L918.6 202.3ZM931.0 216.0L932.6 214.7L933.8 215.5L934.7 216.8L936.3 217.8L937.3 219.9L939.6 219.9L941.2 221.0L942.8 221.2L944.5 219.6L945.7 219.7L947.5 219.7L949.2 219.1L950.8 218.3L952.1 217.4L953.9 217.2L955.4 215.3L957.3 215.7L959.0 214.4L962.0 213.8L960.4 215.5L960.5 217.1L959.0 218.0L957.9 219.5L958.5 221.3L956.6 222.5L957.9 223.6L958.5 225.2L957.1 226.9L955.5 226.4L954.4 225.1L952.6 224.5L950.8 224.9L949.9 226.4L947.8 226.0L945.7 225.8L944.3 226.8L942.3 227.0L940.2 225.2L938.3 225.6L937.1 225.0L935.3 224.1L934.1 222.9L933.3 222.4L931.1 221.5L930.2 219.7L930.9 217.7ZM973.2 198.2L974.3 197.3L975.7 197.8L977.4 198.2L978.1 199.3L978.9 200.8L979.5 202.8L980.3 204.8L980.2 206.4L979.7 207.8L980.6 210.2L981.8 209.0L983.4 208.0L985.8 210.1L984.9 212.0L983.9 213.7L983.5 215.2L981.5 216.2L982.1 217.8L983.5 218.5L982.0 220.6L981.0 222.1L979.5 223.0L978.9 224.4L977.1 224.5L976.3 225.5L974.2 223.7L971.7 222.0L971.2 219.5L970.4 217.7L970.4 215.9L970.9 214.4L970.7 212.1L972.1 210.7L971.2 208.2L972.1 206.5L972.0 205.2L972.1 203.8L972.8 202.3L972.0 199.9ZM907.6 263.8L909.6 263.4L909.8 266.4L911.1 267.0L911.5 268.2L913.9 268.9L912.4 270.8L910.8 268.5"/>
<path class="co" d="M713.6 588.5L715.6 587.3L716.0 589.7L714.8 590.8M792.0 533.8L791.5 535.9L789.6 535.8L789.0 538.3L787.4 538.8L785.1 539.6L785.0 541.9L784.2 542.9L782.7 544.1L781.3 544.6L780.0 545.2L778.1 545.3L776.6 546.2L774.6 546.2L776.6 548.2L776.5 550.0L776.2 551.1L774.1 552.7L773.2 554.3L774.2 556.2L773.1 558.2L771.1 559.9L771.5 562.2L770.7 563.9L769.5 564.5L769.7 566.5L769.2 569.0L768.8 571.3L769.4 572.8L768.3 574.3L768.4 576.0L768.7 577.9L769.0 579.6L769.8 580.8L769.5 583.2L770.5 584.4L770.4 586.7L772.0 588.2L771.5 590.1L772.0 591.9L772.7 593.8L773.5 595.8L774.6 597.4L775.0 599.5L776.7 601.0L777.2 603.1M774.4 545.9L775.7 545.5L776.8 545.6L779.0 544.6L780.5 545.0L779.6 546.6L777.6 547.6L775.9 548.8M768.4 573.5L770.9 574.8L769.1 576.9M674.1 602.2L675.6 601.9L677.0 600.7L678.8 600.1L680.8 600.3L682.2 599.2L683.8 599.3L685.0 598.7L686.7 599.2L688.4 598.9L689.8 598.2L691.4 598.8L693.2 598.6L694.6 599.2L697.1 599.9L699.5 601.2L701.2 601.5L703.4 602.0L704.6 603.1L705.9 604.7L707.5 605.8L709.1 607.5L709.5 610.9L711.8 610.9L713.5 611.5L715.3 610.9L717.1 609.3L718.5 608.2L719.9 607.3L721.7 606.4L722.5 604.7L724.2 603.3L725.6 602.4L727.3 601.2L729.3 599.8L731.2 600.5L733.1 601.2L734.9 602.3L736.7 603.5L738.4 604.5L739.8 605.6L741.4 607.0L742.6 608.5L744.1 610.2L746.1 611.7L748.4 612.6L749.7 614.5L751.9 616.0L754.1 617.1L755.3 618.4L756.3 620.0L757.3 621.9L758.0 623.5L757.9 626.2L758.7 628.4L758.3 630.8L757.1 633.2L757.2 635.5L757.6 637.7L758.8 639.6L759.4 641.3L760.5 643.0L761.1 644.4L762.6 645.6L763.0 647.1L764.5 649.2L766.3 650.9L767.4 653.0L769.0 654.6L769.6 656.1L770.9 657.5L771.3 659.7L772.9 661.0L773.4 663.2L774.8 664.2L776.3 664.7L777.6 666.7L778.9 668.2L780.2 669.2L780.7 670.6L781.9 671.9L782.6 673.6L785.6 674.4L787.6 675.0L789.6 675.0L792.0 676.3M758.4 635.9L761.1 635.0L762.4 636.3L763.9 636.8L765.0 639.9L763.4 641.3L761.9 641.8L760.9 643.7L761.4 641.3L761.9 640.0L760.3 638.4M770.6 654.7L773.8 653.4L773.8 655.5L774.8 657.4L775.1 659.4L775.0 661.1L774.8 662.9L773.4 664.4L772.7 662.2L772.5 660.3M709.7 608.4L711.3 609.3L712.4 610.5L714.4 610.6L716.3 611.5L717.8 609.7L719.9 608.7L718.2 609.4L717.1 610.8L715.6 611.6L713.4 612.1M639.0 608.8L640.5 608.2L641.3 607.4L641.8 606.8L643.8 606.0L644.0 604.5L645.9 605.1L647.2 605.3L649.1 605.0L650.8 605.3L651.7 604.9L653.1 605.3L654.3 604.4L656.0 604.7L657.3 603.8L658.0 604.5L659.5 603.2L660.7 603.9L662.5 601.9L663.0 600.2L662.8 598.3L664.7 597.7L665.5 599.8L665.9 601.4L666.1 603.3L668.5 604.6L670.4 604.1L672.2 602.8L674.1 602.2M622.5 609.7L624.0 608.7L625.1 606.6L626.7 605.9L628.1 606.8L629.5 607.0L630.8 608.0L632.9 606.8L634.2 608.6L634.9 609.5L634.6 610.8L634.6 612.1L633.5 613.9L631.4 613.8L630.3 612.1L629.5 614.5L627.6 612.0L626.5 612.1L625.5 612.9L623.9 612.5L622.3 612.0ZM600.0 620.0L601.1 621.5L602.8 621.0L604.6 621.5L605.6 622.3L606.0 623.7L607.4 624.3L608.6 624.6L610.5 625.4L610.8 627.1L612.2 628.1L613.5 628.2L613.4 630.0L615.5 629.4L616.5 630.5L617.6 631.4L617.9 631.6L619.2 631.7L620.4 634.0L621.6 631.7L622.9 632.0L623.0 629.2L625.4 629.5L626.6 628.9L627.7 629.2L628.8 629.7L629.7 627.9L631.5 628.4L631.2 625.8L633.2 624.6L634.3 623.1L635.2 623.3L636.9 624.0L638.9 624.6L640.0 624.0L641.1 625.7L642.7 626.0L643.4 626.1L644.6 626.6L647.0 626.5L648.3 626.5L649.4 626.9L650.0 628.2L649.4 629.0L649.5 631.7L647.7 630.8L646.2 632.1L644.9 632.8L643.8 632.1L644.5 630.4L642.4 629.1L641.1 628.6L640.1 628.3L638.8 627.6L637.9 625.6L637.4 625.0L636.3 624.1L637.7 623.3L638.0 622.0L637.3 620.3L640.4 619.4L640.7 618.5L642.0 617.4L642.8 616.5L642.1 614.4L643.7 613.3L644.1 611.6L645.9 609.9L643.5 610.3L642.1 610.9L641.2 612.6L639.4 613.2L638.1 614.2L637.8 615.5L637.9 617.8L637.1 617.9L636.5 616.6L636.2 615.0L635.5 613.8L635.9 611.2L637.0 609.9L638.0 609.3L639.0 608.8M650.6 611.6L651.6 612.9L652.7 614.1L652.6 616.2L652.4 618.1L650.3 618.5"/>
<path class="co" d="M777.2 603.1L778.6 604.7L780.8 605.8L782.1 607.2L783.8 608.9L784.4 610.6L785.6 612.1L786.6 613.4L787.4 615.2L788.6 616.7L789.3 618.3L790.5 619.7L791.0 622.2L791.9 623.7L793.5 625.5L794.1 627.3L795.2 629.0L796.1 630.5L796.8 632.1L798.4 634.1L799.1 636.3L800.5 638.0L801.9 639.5L802.8 641.9L804.7 643.4L805.3 645.2L806.7 647.0L807.6 649.3L808.1 650.9L808.3 652.9L809.4 654.7L809.0 657.1L809.4 659.1L810.0 661.3L810.1 663.3L810.0 665.1L810.2 666.7L810.8 668.6L810.5 671.1L810.4 673.2L811.2 675.4L810.5 677.7L809.6 680.2L808.7 681.2L808.1 683.0L807.7 684.6L806.3 685.8L805.8 687.4L804.6 688.6L802.6 690.1L800.8 691.3L798.7 692.9L796.9 694.4L795.0 694.6L793.1 695.8L791.1 696.0L789.3 697.2L788.2 698.2L786.6 699.1M787.1 614.4L789.5 615.6L790.9 616.8L791.7 618.3L792.3 619.8L793.3 620.9L793.9 623.2L793.5 624.9L791.9 623.5L790.5 621.7L789.7 619.7L788.9 617.9L788.1 616.0ZM788.4 616.3L789.6 617.6L790.6 618.7L790.8 620.8L792.2 622.1L793.1 624.9M789.0 618.1L790.1 619.4L791.3 620.8L791.8 622.1L792.4 623.8M780.0 666.9L781.0 668.7L782.1 670.7L783.1 672.4L784.5 673.4L786.4 674.1L788.3 674.3L789.6 675.8L791.0 677.5L792.2 679.0L793.8 680.8L794.0 682.9L794.7 685.0L796.4 685.1L797.9 685.6L799.9 685.7L801.8 685.0L803.4 683.8L805.5 682.8L807.7 681.5L809.6 680.0M808.1 672.5L808.8 674.3L810.4 676.0L809.3 678.0L809.1 680.0L809.4 681.9L808.1 683.8M790.3 648.1L791.4 646.6L793.2 645.1L796.0 645.9L797.2 647.5L798.3 648.9L798.5 650.9L797.6 652.9L797.1 654.3L796.3 655.5L794.9 655.0L793.5 654.9L792.2 653.6L791.0 652.9L790.0 650.3ZM854.8 641.6L855.6 643.8L857.6 642.9L859.7 643.1L859.8 645.3L859.6 646.1L860.4 646.9L860.4 649.5L859.1 650.8L857.7 648.5L856.9 647.3L855.4 647.5L855.5 645.2M854.4 686.6L855.5 687.1L856.4 690.1L858.2 690.3L857.4 691.5L858.8 693.3L860.0 693.8L860.0 695.3L860.4 696.1L862.9 697.1L861.6 699.3L861.4 699.5L860.7 699.7L860.4 700.6L859.1 700.8L859.6 699.1L858.1 698.8L856.0 696.6L856.1 696.5L856.9 693.7L854.9 693.4L856.2 692.3L856.0 691.0M856.9 690.0L856.7 690.9L857.3 692.5L858.4 693.2L859.0 694.9L860.0 695.0L860.0 696.7L860.4 698.6L862.1 698.1L862.4 699.1L863.0 701.3M924.4 702.6L924.9 704.1L926.4 703.8L927.5 704.1L928.3 702.3L930.2 703.7L930.7 703.5L932.1 702.5L933.9 703.4L933.1 704.5L932.8 706.3L933.0 707.1L933.2 707.8L932.6 709.3L930.9 709.7L931.6 711.5L930.1 711.1L929.1 712.6L928.9 713.3L927.3 715.1"/>
<path class="co" d="M515.6 544.6L517.6 543.1L519.3 545.5L520.3 544.2L521.3 542.8L522.9 541.8L523.2 544.0L523.0 546.3L520.9 545.8M568.5 622.8L567.1 622.7L565.4 623.6L564.1 623.9L563.2 625.6L561.9 626.3L560.4 626.1L559.3 627.7L557.3 627.5L556.3 628.9L555.3 630.8L553.9 631.6L552.6 633.2L551.1 634.3L549.2 635.2L548.3 636.3L547.1 636.8L546.1 638.2L544.6 639.2L543.2 639.9L542.3 641.0L540.1 641.4L538.3 643.0L536.1 643.3L533.9 644.4L532.8 645.9L530.8 647.0L529.2 648.2L527.2 649.1L526.1 650.3L524.4 651.1L523.2 652.1L521.7 653.1L521.1 654.5L519.3 654.9L517.5 656.7L516.3 658.3L515.3 660.3L514.6 662.4L513.5 664.3L512.5 665.8L512.4 667.7L511.8 668.9L510.8 670.8L510.5 671.9L510.1 673.5L510.5 675.5L510.9 676.8L510.7 678.5L511.0 680.2L512.1 681.4L512.0 683.2L512.7 684.7L512.4 686.1L512.9 688.1L513.4 689.2L514.5 691.6L514.9 694.2L515.6 696.4L515.3 698.7L515.0 701.2L514.5 703.4L514.0 705.4L513.0 707.2L511.7 709.0L510.8 710.8L510.4 712.9L509.6 714.7L508.5 716.2M549.4 623.8L550.9 623.1L551.9 622.3L553.9 621.8L554.8 623.9L553.8 624.6L553.9 625.9L555.6 627.1L555.6 628.4L554.2 629.1L552.7 629.2L550.9 628.9L550.3 627.0L551.0 625.6L549.4 623.8M547.5 635.0L548.5 633.6L549.5 633.1L551.5 631.6L552.8 630.3L553.5 629.0M522.2 644.4L524.2 645.7L525.2 644.9L526.5 644.0L526.8 645.7L528.1 647.0L528.8 644.8L530.5 644.0L530.7 645.7L529.7 647.1L531.5 646.0L532.5 644.8L534.8 645.3M513.8 653.8L514.9 654.3L515.7 655.1L516.2 654.2L517.5 653.5L518.0 654.6L519.2 656.6L520.2 654.8L520.5 653.1L521.1 652.4L522.8 652.8M509.1 660.3L510.4 661.2L510.9 662.5L512.8 660.5L513.2 662.8L513.6 664.0L513.9 662.1L514.4 660.7L515.6 659.4M504.4 670.6L506.1 671.3L506.3 669.3L507.3 670.0L508.4 670.5L509.9 672.5L510.4 671.0L510.8 669.7M508.1 678.1L508.9 679.7L509.1 681.2L508.6 682.8L509.1 684.9L510.2 686.8L510.3 688.4L511.8 690.4L512.3 692.1L512.7 694.1L513.4 696.0L514.1 697.8M504.4 715.6L504.2 713.3L504.1 711.0L504.8 709.5L505.8 708.1L508.2 709.2L509.7 706.9L511.8 708.1L510.5 709.9L510.0 711.9L509.3 713.9L508.5 715.6M568.5 622.8L570.3 623.3L571.8 623.0L573.5 622.5L575.5 622.5L577.6 621.4L579.4 622.8L581.6 622.5L583.0 622.7L585.1 622.9L586.7 624.2L588.7 624.3L590.8 625.0L592.8 624.9L594.2 624.8L595.3 625.2L596.9 624.9L597.9 623.9L599.9 624.9L600.4 626.4L602.6 625.3L603.5 625.8L604.3 625.3L606.1 625.2L607.7 625.0L609.2 625.1L610.3 627.1L612.0 626.6M568.1 619.6L569.5 619.0L569.9 617.8L570.6 619.5L570.1 620.6L569.4 621.2L569.3 622.3L569.3 620.8ZM577.1 617.8L578.5 617.3L578.4 618.3L579.4 620.0L578.6 621.4L577.4 621.9L577.0 619.9ZM585.9 618.1L588.4 617.9L588.6 620.0L585.6 620.3ZM589.7 620.9L591.3 620.3L592.5 620.7L593.4 623.2L591.5 622.7L589.7 623.6ZM597.2 621.9L597.6 620.4L598.4 619.0L600.0 621.0L601.6 622.1L602.6 620.0L603.7 620.3L606.0 620.8L607.0 621.4L607.0 623.1L605.7 623.3L604.4 625.4L604.0 623.3L601.9 623.4L601.0 625.1L599.7 626.1L598.6 625.3L598.1 623.4"/>
<path class="co" d="M194.6 530.0L195.2 531.7L194.4 533.9L194.6 535.8L195.9 537.5L196.0 539.2L196.3 540.9L197.3 542.5L197.7 544.2L198.2 546.5L199.6 548.6L199.8 551.1L200.1 553.4L199.4 555.1L199.4 557.2L199.5 559.5L200.5 562.0L201.6 564.3L202.0 566.6L203.1 568.8L203.5 571.4L204.1 573.7L204.5 576.1L204.8 578.2L204.1 580.6L205.5 581.7L206.2 583.4L207.0 585.9L207.5 588.0L207.5 590.4L206.9 593.0L208.4 594.5L209.4 596.4L210.3 597.9L211.5 599.0L213.1 600.3L214.2 601.5L215.3 603.0L216.5 604.0L217.9 606.1L219.5 608.0L220.7 609.2L221.4 610.9L222.3 612.2L223.5 614.0L223.7 615.9L225.0 617.0L226.2 619.2L227.5 621.1L228.7 622.7L229.5 624.7L230.4 626.5L229.8 628.3L229.5 629.9L228.7 631.0L227.4 632.3L226.3 633.9L225.3 634.8L224.2 636.0L221.4 637.1L219.3 636.5L217.3 636.3L215.8 635.2L213.7 634.3L211.3 635.0L212.5 636.4L213.7 637.8L215.0 639.2L216.4 640.5L217.3 642.3L218.2 644.2L218.9 646.2L219.5 648.1L220.8 648.7L222.4 649.8L223.7 651.2L225.3 652.1L226.3 653.8L228.1 654.4L229.4 655.9L230.4 657.3L232.4 659.2L235.3 659.3L237.8 658.2L239.9 656.2L239.8 658.4L240.4 660.3L241.3 661.8L241.9 663.0L242.9 664.7L244.6 666.1L246.0 667.4L247.5 668.6L248.8 670.2L250.3 671.7L251.2 673.0L252.5 674.2L252.9 676.2L253.6 678.1L253.7 680.5L253.9 682.9L254.5 685.3L253.9 687.4L253.0 689.9L253.1 692.1L252.3 694.3L251.6 696.2L250.6 697.8L249.9 699.8L250.1 701.8L251.3 703.4L252.6 704.9L254.2 706.2L255.4 707.1L256.9 708.2L258.2 709.2L259.3 710.3L261.1 711.1L262.3 712.7L264.1 713.6L265.1 714.9L267.2 716.2M224.1 635.0L226.1 633.2L227.9 632.0L229.0 634.2L226.8 635.8L224.9 637.9L226.9 639.7L229.0 640.0L228.0 638.1L225.4 636.9M249.0 699.7L249.3 698.3L250.4 697.2L250.8 698.3L251.7 700.0L252.3 701.3L253.6 703.6L255.2 705.1L256.1 706.5L257.8 706.9L259.3 708.1L257.9 710.3L256.2 709.1L254.9 708.4L253.4 706.9L251.9 705.5L251.2 703.8L250.3 702.5M161.3 597.9L162.5 597.7L163.9 600.4L162.8 603.3L161.6 602.9L161.4 600.1ZM207.8 627.5L208.8 625.6L209.0 623.9L210.5 624.7L211.2 627.6L209.4 629.0L208.2 629.2ZM228.4 558.5L227.4 560.5L227.2 562.8L226.6 565.0L225.5 567.6L226.1 570.0L226.1 572.1L226.8 574.6L227.3 576.7L227.0 579.2L227.0 581.6L226.9 584.1L226.4 586.2L226.3 588.5L226.8 591.0L227.4 593.4L228.1 595.4L228.8 597.5L230.5 599.3L231.9 600.9L233.2 602.4L235.0 603.9L236.1 605.9L237.3 607.6L238.2 609.4L239.2 611.4L240.1 613.5L239.6 615.3L240.7 616.9L241.0 618.7L242.1 620.0L243.6 621.5L244.6 623.0L245.6 624.5L246.7 626.1L247.7 627.4L249.4 628.4L248.9 630.4L249.5 632.2L249.8 634.1L249.7 636.0L250.4 637.7L250.8 639.7L252.3 641.5L253.1 643.6L254.4 645.1L255.4 647.3L256.4 649.2L257.2 650.9L258.0 652.7L259.1 654.5L259.5 656.7L260.7 658.3L261.8 659.5L262.1 661.3L263.8 662.4L264.6 664.3L265.4 666.2L266.3 668.0L266.9 669.8L267.8 671.7L268.2 673.8L268.9 676.3L268.4 678.6L268.8 681.1L269.2 683.3L270.5 685.6L270.6 687.3L271.7 688.7L272.3 690.1L272.5 691.8L273.1 693.5L273.5 695.3L274.7 697.2L275.3 699.7L275.2 702.2L275.9 704.2L276.0 706.9L274.9 709.0L275.3 710.9L275.4 712.8L275.8 714.8L276.6 716.2M228.4 558.5L229.8 559.9L231.5 561.3L233.5 562.2L235.6 563.6L237.4 565.0L239.1 567.0L241.9 565.3L243.4 566.3L244.9 567.2L245.7 569.0L247.2 570.2L248.2 572.7L249.5 574.0L251.4 574.4L252.7 575.4L253.7 576.1L254.5 577.5L254.9 579.2L254.3 581.2L253.8 583.5L253.4 585.9L254.1 588.2L254.4 589.7L255.2 591.5L255.9 593.0L256.6 595.2L257.3 597.6L258.3 599.6L258.9 602.1L259.6 604.7L260.2 607.0L260.7 608.5L261.4 610.2L262.4 611.4L262.5 613.5L263.8 615.2L263.3 617.3L263.6 619.8L264.8 621.2L265.7 622.6L266.5 624.7L267.5 626.9L268.5 628.6L269.6 630.4L271.6 632.1L272.1 633.9L273.1 636.0L274.4 637.9L275.8 639.7L277.5 641.8L279.0 642.5L280.3 644.0L281.8 644.5L283.6 644.9L285.1 645.0L286.1 646.4L286.8 648.1L286.5 650.1L286.6 652.0L286.3 653.7L286.7 655.7L287.8 657.5L288.8 658.9L290.5 659.9L292.1 660.7L293.8 661.5L295.0 662.8L296.1 664.1L296.5 666.4L296.3 668.5L297.7 669.4L299.2 669.8L301.1 670.7L302.8 670.4L303.5 672.5L304.5 673.4L305.1 675.4L306.3 676.9L306.4 678.7L307.4 680.1L306.0 680.8L304.9 682.0L303.5 683.4L301.9 684.4L301.9 686.7L301.1 688.3L302.5 689.7L303.4 691.4L305.0 692.3L306.5 693.1L308.4 695.6L311.4 694.6L312.7 696.3L313.5 698.1L314.8 699.0L316.3 700.6L317.4 701.6L318.7 702.6L319.9 704.3L321.5 705.1L322.7 706.5L323.5 708.3L323.7 709.9L323.9 712.0L325.5 713.1L326.4 714.7L327.2 716.2M257.3 618.1L258.9 616.1L260.0 615.0L261.5 614.4L263.1 616.7L262.8 618.8L262.9 621.0L261.6 622.3L260.9 623.4L258.4 623.2L258.1 621.6L257.3 619.8ZM240.9 606.9L242.8 605.7L244.0 607.2L244.7 608.8L245.2 610.6L246.2 612.4L247.1 613.9L247.8 615.9L246.0 617.4L244.8 616.8L244.2 615.4L243.5 613.9L242.6 612.7L242.1 611.0L241.6 609.6ZM250.9 624.9L251.6 625.6M254.3 624.3L255.0 625.1M261.6 662.8L263.2 662.3L263.7 663.6L265.1 665.0L265.0 666.8L264.2 668.3L262.7 666.6L261.9 664.9ZM275.6 687.1L276.4 687.9M277.1 694.6L277.9 695.4M277.1 699.7L278.6 700.5L278.9 702.6L277.8 703.3L276.3 702.2ZM280.3 709.6L281.6 710.4L282.1 712.6L280.9 712.3M318.8 703.4L320.9 704.8L322.3 705.6L322.6 707.5L323.6 708.6L323.8 710.2L322.0 709.6L320.8 708.0L320.8 706.2L319.8 704.5Z"/>
<path class="co" d="M750.0 341.9L750.8 339.4L751.8 337.9L752.3 336.0L754.0 334.4L755.5 332.3L757.7 331.0L759.5 329.9L761.5 328.0L763.7 327.2L765.8 326.3L768.1 325.2L770.3 324.3L772.7 323.6L774.1 323.2L775.7 322.5L777.4 323.1L779.1 323.3L780.7 323.7L782.3 323.5L783.8 323.1L783.7 320.6L785.5 317.9L786.7 317.0L788.0 316.1L790.1 315.3L791.9 316.4L794.4 317.3L796.2 318.9L796.8 320.6L795.8 321.9L796.8 323.7L797.2 326.2L796.4 328.3L794.9 328.9L793.7 329.8L793.0 331.4L791.9 332.7L789.5 334.0L787.7 334.1L786.4 334.9L784.7 334.9L783.2 335.9L780.6 336.3L778.2 335.9L776.6 335.8L775.0 335.9L773.2 336.3L771.4 337.0L769.3 337.1L767.5 337.9L765.6 338.3L763.8 339.3L762.3 339.9L760.7 340.6L759.9 342.5L757.5 343.0L755.7 343.2L753.9 343.7L751.2 342.9ZM783.8 321.0L784.9 319.5L786.2 317.8L787.8 316.9L789.3 315.7L790.9 314.8L792.6 314.3L794.0 312.6L795.5 311.5L796.8 309.9L798.1 308.5M784.4 320.2L785.9 318.9L786.9 317.3L788.3 316.3L789.9 315.4L791.4 314.2L793.2 313.2L794.4 312.0L795.9 310.7L797.3 309.5L798.5 307.8M841.9 378.0L843.3 378.4L843.8 380.0"/>
<path class="co" d="M708.5 186.2L710.0 188.9L711.4 191.4L710.6 193.8L713.2 193.2L714.7 193.3L716.2 193.4L717.8 194.3L719.5 195.0L720.6 192.4L721.2 190.0L722.1 187.6L722.8 186.2M728.1 186.2L729.2 188.8L729.8 191.4L730.3 189.3L730.6 186.9"/>
<path class="co" d="M843.4 391.2L842.4 392.7L841.6 394.2L840.0 394.9L840.1 397.2L839.0 398.5L838.8 400.1L839.1 401.4L838.8 402.6L837.0 404.8L836.9 406.6L835.4 408.1L835.1 405.4L835.3 402.9L832.7 403.0L831.5 401.7L828.9 402.6L826.9 400.9L825.8 399.7L824.8 397.8L824.7 395.5L824.6 393.6L824.7 391.5L826.4 391.2M842.7 391.9L842.5 393.1L842.0 394.2L840.3 395.1L841.3 396.7L839.6 398.6M824.0 395.6L825.3 397.5L825.9 399.3L826.0 400.8L826.7 402.8L828.4 403.2L827.7 404.8L830.2 405.4L830.2 407.7L831.4 409.1L833.4 408.9L834.2 410.2L835.8 411.0L836.5 412.1L835.8 413.8L836.2 415.8L837.8 416.6L837.0 418.4L837.4 419.2L836.8 420.7L836.4 422.6L835.3 423.4L835.9 425.5L834.7 426.6L834.8 428.5L833.9 429.4L833.8 431.4L832.4 433.3L831.7 435.8L832.8 437.1L832.2 438.9L831.9 440.0L832.7 442.1L830.7 442.7L829.9 443.6L828.6 442.8L827.6 440.2L827.9 438.7L828.5 437.6L829.4 435.9L829.5 434.9L830.3 434.2L830.6 433.0L830.4 430.2L831.1 427.5L829.5 428.2L828.0 428.1L826.4 428.6L825.9 427.5L824.9 425.6L823.7 425.3L823.6 423.8L822.7 421.0L820.8 421.5L819.4 420.4L818.5 417.8L819.0 416.6L818.3 415.9L817.0 414.6L817.3 413.3L817.5 412.3L816.1 411.2L815.8 410.0L815.7 408.5L816.9 406.7L817.0 405.1L817.7 403.9L818.6 403.1L818.6 402.2L819.6 399.8M834.6 412.0L836.2 413.3L837.1 414.7L837.0 415.9L835.8 417.6L836.3 418.8L836.3 420.3L835.4 421.4L835.3 423.5L834.8 424.3L834.9 426.0L834.3 427.5M829.4 436.9L830.3 438.7L831.7 439.5L831.2 441.2L830.7 443.6L829.4 441.1M819.6 399.8L818.2 400.6L816.8 401.5L816.0 402.5L815.0 402.9L813.6 404.0L812.4 404.3L812.4 406.1L810.5 407.8L811.5 408.7L811.6 410.4L813.0 411.2L812.8 412.3L812.6 415.3L814.3 415.7L813.5 417.5L815.3 418.5L815.9 419.0L815.7 420.4L816.0 422.5L817.8 423.7L818.9 425.1L820.8 426.7L820.8 428.6L821.4 430.3L821.4 431.5L822.0 433.0L822.6 434.5L823.2 435.5L823.1 437.4L824.1 438.8L823.3 440.6L823.8 441.3L823.6 443.0L825.2 444.1L824.4 445.5L825.6 447.4L824.3 448.3L824.5 449.8L822.9 450.9M817.2 399.4L815.5 400.7L815.7 402.2L814.2 403.2L814.2 404.6L813.3 405.9L814.5 407.3L812.9 408.1L812.8 409.6L811.8 412.0L814.2 413.0L813.6 414.7L816.1 414.8L814.1 417.5L816.0 418.1L815.7 419.9L818.6 420.7L817.5 422.4L819.1 423.7M818.2 406.9L818.8 408.3L820.3 409.6L819.3 411.5L819.9 412.7L820.4 413.5L820.7 415.3L823.0 416.8L820.6 418.0L819.2 416.1L819.8 414.7L817.9 414.6L818.2 412.5L818.5 410.8L817.6 410.3L817.2 408.7M822.9 420.9L823.5 422.5L825.8 423.6L827.3 425.6L828.2 427.9L826.1 426.8L824.0 425.7L823.6 423.7M806.9 414.8L806.9 417.0L805.3 417.4L805.1 419.2L804.6 420.3L804.6 421.4L804.6 423.1L804.9 424.2L804.4 425.5L805.8 425.6L806.3 426.4L807.7 425.6L809.1 425.9L810.5 427.0L811.3 427.0L811.8 425.4L812.7 424.7L814.5 424.0L815.4 424.3L816.4 426.5L818.2 425.7L819.6 427.5M805.1 420.0L804.1 421.2L803.6 422.6L804.4 424.8L805.6 424.5L807.0 424.9L808.7 425.0L809.0 426.0L810.1 425.2L811.1 425.2L812.6 424.8L813.3 424.0L814.5 424.9L815.9 424.3L817.2 425.7L818.2 426.1M812.6 420.5L813.6 422.3L815.8 422.8L816.8 424.5M811.6 430.3L813.7 431.4L815.8 432.6L817.5 434.0L819.3 435.1L820.7 436.2L822.4 436.4M811.2 430.8L811.6 431.7L813.9 432.0L814.0 433.3L815.1 434.2L816.1 434.6L817.6 434.8L818.4 435.3L818.9 436.7M815.4 439.2L816.6 441.2L819.4 441.6L821.3 443.0L823.1 443.4L824.3 445.8M813.0 444.4L814.0 444.9L815.6 444.4L816.3 446.7L817.8 447.1L819.6 447.2L821.3 447.2L821.7 448.2L823.7 448.4L825.7 448.7L827.5 447.9L829.4 447.7M813.5 445.1L814.5 445.4L815.8 445.4L817.2 446.2L818.3 447.6L820.3 448.1L821.1 448.9L822.3 450.7L824.2 451.9L825.7 449.5M821.0 446.2L822.0 448.3L823.7 449.1L825.2 450.5M829.4 447.4L830.2 449.1L830.4 450.2L830.9 452.0L832.9 452.7L834.0 454.1L834.9 455.6L835.1 456.8L836.7 458.3L837.4 459.1L837.3 461.8L839.0 463.0L840.0 464.1L841.7 465.4L843.3 465.7L842.9 468.0L844.3 469.4L845.2 471.7L844.5 473.3L845.2 474.7L845.2 476.5M831.1 450.9L832.6 452.3L831.7 454.5L833.3 454.4L833.2 456.5L833.9 457.7L834.5 459.5L835.6 460.3L837.5 461.1L837.8 463.2L839.1 463.7L840.2 464.7L841.2 466.1M831.5 450.0L832.7 451.0L832.5 453.7L833.2 454.2L834.0 456.4L836.0 456.7L836.8 458.4L837.4 459.8L838.1 460.8M821.5 461.7L821.8 463.4L822.0 464.1L822.6 465.2L823.1 466.6L824.8 467.9L827.0 467.1L828.4 465.6L829.3 464.6L830.7 463.9L833.0 461.9L835.1 461.7M823.3 468.7L825.7 467.8L827.3 467.2L828.7 468.6L830.4 467.8L831.1 466.3L832.2 465.7L834.0 465.7L836.2 465.5L837.5 466.0L839.5 467.4L839.4 469.3L838.7 470.5L837.5 471.3L837.9 473.1L835.7 474.9L834.2 475.8L833.4 477.7L832.4 476.5L829.5 478.3L828.1 475.8L827.2 474.2L825.3 476.3L824.2 478.2L821.9 477.2L819.8 477.5L822.0 477.0L822.6 479.0L824.0 479.1L825.6 478.6L827.4 480.0L827.2 481.8L829.4 482.9L827.5 484.4L826.1 485.3L824.2 484.9L822.9 485.6M834.1 465.0L834.8 466.0L834.0 467.7L835.4 469.5L834.8 470.9L834.6 472.5M826.6 462.2L827.2 464.2L829.9 463.4L831.3 462.7"/>
<path class="co" d="M886.9 281.8L888.1 284.2L890.2 283.4L891.0 285.5L891.3 283.5L892.8 283.4L894.3 284.0L894.7 284.9L896.3 285.0L897.3 286.1L897.7 286.2L898.7 285.7L898.9 283.4L899.2 282.0M906.8 265.4L908.3 265.3L909.5 266.7L910.3 268.3L911.4 266.6L913.2 266.4L912.9 267.8L914.6 267.8L913.6 270.0M877.5 297.4L879.6 297.4L880.1 296.5L880.9 295.7L882.4 294.7L882.4 293.9L884.8 294.1M981.7 207.7L982.0 208.2L982.7 210.2L982.6 210.4L981.6 212.9L983.3 213.8L982.0 215.0L982.4 216.3L980.4 218.1L981.2 218.5L981.3 220.2L983.9 220.7L983.2 221.4L983.6 222.9L982.0 223.5L982.8 225.3L982.5 227.1M978.7 217.0L979.7 218.5L979.0 220.0L980.5 221.0L980.0 222.5L980.4 223.9L979.5 224.8L980.1 225.9L978.6 227.2M933.9 218.1L935.5 218.3L936.8 218.9L938.2 219.1L939.1 218.4L940.4 218.8L941.5 219.0L943.1 219.1L944.2 219.3L945.5 218.9L946.4 219.5L947.8 219.1L949.0 218.3L950.7 218.2L951.6 217.4L952.9 216.6L953.9 216.5L955.6 216.1L957.0 216.1L957.7 214.9L959.0 215.4M828.3 288.6L827.8 290.1L828.6 291.1L829.2 292.6L829.2 293.5L829.1 295.0L829.6 296.1L829.9 297.4L829.8 298.6L830.0 300.2L830.0 301.3L830.6 302.3L830.9 303.8L830.8 305.2M877.9 342.5L879.4 343.3L880.4 343.0L881.6 343.0L882.7 344.2L883.7 342.7L884.8 342.0L886.4 341.9L887.2 340.5L887.5 339.5L888.9 339.1L888.8 337.9L890.0 336.6L890.7 336.2M869.8 339.3L870.7 340.9L870.9 342.5L870.1 343.8L872.0 344.7L873.6 345.5M843.0 369.3L844.4 368.3L845.2 367.6L846.1 366.8L847.6 366.7L848.5 365.5L849.6 365.8L850.9 365.0L852.0 364.2L853.0 363.3L853.9 362.9L855.1 362.4L856.5 362.4L857.5 361.5L858.8 361.0L859.5 360.4L860.7 359.4L861.9 359.7L863.1 359.1L864.0 357.8L865.5 357.5L867.0 357.2L868.0 356.2M812.4 405.3L811.2 407.7L813.4 408.3L812.8 409.9L813.0 411.4L813.5 412.2L814.0 414.2L814.8 415.2L815.9 416.2L816.8 417.0L816.4 419.6L817.4 420.1L817.8 421.8L819.0 422.4L820.3 422.6L820.2 424.0L820.7 425.0L821.1 426.9L822.5 427.3L823.5 428.1L824.3 428.5L824.5 430.0M818.7 402.5L818.0 403.9L819.7 405.0L818.8 406.7L818.9 407.4L821.3 408.2L820.4 410.1L821.5 411.5L822.7 412.3L822.9 413.9L822.6 415.4L824.7 415.9L825.4 417.2L825.8 418.0L825.7 419.6L826.6 421.3M823.3 459.2L823.7 461.1L825.6 461.5L826.6 462.5L826.6 463.9L828.3 464.3L830.4 464.3L830.8 463.4L831.9 462.3L833.9 461.5L834.4 463.7L834.3 463.9L834.8 465.7L835.3 466.4L835.7 468.0L836.9 468.6L835.8 469.2L836.0 471.5L833.1 471.2L833.0 472.2L831.5 473.2L832.0 475.3L830.2 474.9L829.8 475.8L828.0 475.8L828.5 476.8L827.2 478.1L828.3 479.8L829.3 481.0L830.1 481.4L830.8 481.9L832.5 480.9L833.6 480.1L834.1 480.5L835.8 480.4L834.5 480.0L834.4 482.7L833.6 483.8L835.0 484.8L833.4 485.3L832.8 488.1L830.9 487.1L830.7 488.5L829.9 489.4L828.5 490.8M815.5 443.9L816.5 444.3L818.8 444.2L819.1 445.2L820.6 446.7L821.4 448.4L822.7 446.3L823.7 444.9L824.4 445.4L824.9 446.1L826.6 446.3L826.9 447.2L827.0 449.4L827.9 449.5L830.0 450.7L829.7 452.8L830.6 453.0L831.6 455.1M820.2 437.8L822.1 438.2L823.1 439.4L824.9 439.3L826.0 439.6L827.5 439.6L828.1 438.0L830.0 436.9M636.6 607.6L636.7 609.2L638.9 610.0L640.4 610.7L642.0 610.9L641.4 609.0L644.1 607.7L645.6 609.2L644.3 611.8L646.9 612.8L644.3 612.2L643.1 613.9L643.2 615.5L641.2 615.8L639.2 616.8L638.9 617.4L639.0 618.3L640.4 619.0L640.9 621.6L643.0 620.4L643.7 621.8L645.1 621.6L645.2 622.6L646.6 624.3L647.4 624.9L648.7 624.3L650.9 626.6L648.1 626.7L647.5 625.8L647.8 628.6L646.3 629.6M618.6 630.6L619.9 630.4L621.2 631.4L622.6 629.8L623.1 630.6L623.9 630.3L625.5 630.3L625.6 628.1L627.6 628.1L628.6 627.1L630.3 627.2L631.4 628.2L632.6 628.5L634.2 628.7L633.7 627.7L634.7 625.9L635.8 624.7L638.4 625.1M640.2 607.6L640.4 609.1L641.9 609.7L643.2 610.5L641.5 612.3L640.0 613.8L639.9 614.9L639.4 616.2L638.1 616.9M673.8 599.3L675.1 599.3L675.8 600.0L677.5 599.6L678.6 599.5L679.6 598.2L680.7 598.4L682.6 598.9L683.6 597.7L684.6 597.6L686.1 598.3L687.4 597.9L688.6 597.4L689.8 598.3L690.8 598.9L692.0 598.3L693.3 599.0L694.7 599.1L696.2 599.5L697.0 601.0L698.2 600.6L699.1 602.1L700.3 602.5L701.6 602.3L702.6 603.4L703.1 604.0M711.3 609.8L712.3 609.4L713.8 609.4L715.1 609.2L716.0 608.4L716.9 607.6L718.5 606.2L720.3 606.5L721.4 605.8L721.9 604.6L723.1 604.0L724.0 603.3L725.3 602.4L726.6 601.7M758.6 634.8L759.9 636.3L761.2 636.8L761.3 638.1L762.0 639.4L763.0 640.4L762.7 641.4L762.9 642.7L761.4 641.8L759.9 642.5M771.1 653.6L772.0 654.3L772.8 655.4L772.6 657.4L773.5 658.0L773.8 659.8L774.6 660.4L774.8 662.7M799.6 689.2L801.0 689.3L801.9 688.4L803.5 687.6L804.3 687.0L805.8 686.7L806.6 685.6L807.8 684.9L808.0 683.1L809.3 682.6L809.6 681.3M183.9 218.0L183.4 219.0L185.6 219.4L185.5 221.1L186.6 221.5L186.5 222.6L187.4 223.6L189.6 225.1L188.1 226.2L188.3 227.5L190.9 228.6L190.9 229.6L191.3 231.6L190.7 232.8L191.6 233.6L191.4 235.3L192.8 236.2L189.9 237.1L190.7 239.5L188.8 240.2L190.1 241.8L188.3 241.6L188.8 244.6L186.5 243.8L186.1 244.7L186.5 246.3L185.8 248.2L184.2 247.6L183.2 248.7L182.0 250.9M169.3 195.2L170.6 196.1L171.7 197.1L172.2 198.6L172.5 199.5L174.1 199.7L175.2 201.2L175.4 202.8L176.0 203.8L176.9 204.3L177.8 205.4L177.9 207.0L178.9 207.0L178.7 209.2L180.6 209.8L180.3 210.4L181.5 212.0L181.9 212.5L182.3 213.5L182.1 215.4M149.7 191.0L150.0 191.8L149.6 193.5L151.1 194.6L152.0 195.9L152.0 197.0L153.6 197.0L153.6 199.0L154.9 199.5L155.2 200.8L155.9 202.0L157.5 202.3L157.6 204.3L158.4 204.6L160.1 204.7L161.1 205.4L161.5 207.3L162.5 207.7M536.3 246.2L536.2 246.7L538.0 246.7L538.5 247.7L540.0 249.2L541.9 249.9L543.5 249.9L543.0 251.4L545.9 251.9L547.1 252.3L547.1 253.7L547.3 254.7L545.2 254.3L545.8 257.1L543.3 255.4L543.2 255.4L541.4 254.3L541.0 255.9M557.1 259.9L558.8 260.3L560.8 261.3L560.4 263.1L561.9 264.1L563.8 263.9L565.4 265.2L566.1 266.6L566.9 266.5L568.6 267.8M475.9 201.9L476.3 203.0L477.5 204.4L478.9 204.1L480.2 204.9L480.9 205.6L482.9 206.5L483.5 207.7L485.7 207.0L486.0 208.4L485.8 209.8L486.5 210.6L488.0 211.4L488.2 212.5L489.5 213.7L488.9 215.5L490.2 216.3L489.9 217.5L490.2 219.0M617.2 261.4L617.4 260.2L618.6 259.0L619.6 257.7L621.2 257.3L621.7 256.5L623.7 256.3L624.2 255.3L625.2 254.4L625.5 253.4L627.5 254.3L628.1 252.8M683.1 297.4L685.2 297.7L685.7 298.2L687.2 298.9L688.4 299.7L689.7 300.2L691.2 301.5L692.6 301.7L693.0 302.3L694.7 300.9L696.5 301.3L697.2 301.5L698.4 302.8L699.4 301.7L700.8 302.1L702.6 301.2L703.5 302.7L705.0 302.9L706.0 301.8L707.1 301.2L708.2 301.0L709.7 301.2L711.7 300.8L712.3 300.6L713.7 299.5M719.1 309.6L719.4 310.5L720.5 312.1L721.4 312.6L722.8 313.5L723.5 314.5L723.6 315.8L725.1 316.1L726.1 316.3M728.1 297.7L729.0 298.4L730.1 299.5L730.3 301.0L732.6 301.5L732.3 302.6L733.1 304.0L734.7 304.0L734.8 306.0L735.3 307.0L736.6 308.1L737.5 309.3L738.9 309.3L739.7 310.3L740.3 312.0L741.0 312.3L742.1 313.1L742.2 315.0M808.9 512.6L808.2 511.9L807.8 511.4M806.0 513.6L805.6 512.5L806.6 510.7M801.3 518.0L800.6 517.3L800.4 516.1M799.0 520.5L797.5 520.1L796.7 519.5M796.8 525.5L796.0 524.6L794.6 523.7M794.8 529.1L793.7 528.1L793.2 526.9M792.1 532.8L791.2 531.7L789.5 531.5M789.5 536.0L788.4 535.1L788.2 534.2M786.6 538.9L785.9 538.8L785.5 538.0M783.1 542.4L782.5 542.1L781.5 541.2M780.0 546.1L779.4 545.3L778.5 544.3M776.6 550.4L775.4 549.8L773.5 549.5M774.9 554.3L773.7 553.4L772.9 551.9M773.4 557.9L772.1 557.8L770.8 557.1M772.2 561.6L771.7 561.2L770.5 560.5M770.9 566.1L770.1 565.5L768.8 564.4M770.1 571.0L769.3 571.0L768.3 571.1M840.0 479.6L838.8 478.3L838.5 477.3M837.6 483.0L837.0 482.3L835.9 482.3M832.5 489.1L832.2 488.6L831.7 488.2M825.8 493.0L826.0 492.7L825.5 491.6M820.2 496.8L819.6 496.1L818.6 496.5M817.1 500.6L816.4 499.7L815.3 499.1M814.6 505.8L814.1 505.2L813.0 505.2M813.4 509.7L812.7 509.2L812.5 508.8M907.0 268.0L907.4 268.7L908.8 269.4M904.8 269.8L905.8 271.0L906.8 271.5M902.1 272.1L903.3 272.9L904.8 273.1M899.4 274.8L900.3 275.3L900.7 276.1M895.3 278.4L895.8 279.1L895.9 280.2M891.4 280.7L891.7 281.6L892.0 282.2M887.9 284.5L888.5 285.5L889.2 287.4M885.5 287.4L886.7 287.9L887.4 288.7M883.4 290.1L883.6 290.8L884.2 291.5M881.6 292.4L882.5 293.4L883.1 293.6M879.3 295.8L880.2 295.8L881.0 296.2M877.3 299.0L878.2 300.0L878.9 301.3M875.9 302.2L876.6 302.7L877.3 303.4M874.9 304.6L876.1 305.1L876.6 305.7M873.7 308.0L875.0 308.3L875.5 308.0M872.8 311.4L873.7 311.6L874.3 311.9M908.8 266.6L908.1 266.2L908.1 265.5M902.8 271.5L902.1 271.0L902.2 269.9M899.5 274.7L898.8 274.7L898.8 273.9M893.9 279.2L893.4 278.1L893.1 277.6M889.9 282.0L889.2 282.0L888.4 281.6M885.2 287.8L884.1 287.7L883.4 287.2M880.2 294.2L880.1 294.1L879.3 293.7M978.6 231.9L978.6 231.9L977.8 231.2M974.4 236.1L974.0 235.2L973.8 234.8M969.0 241.5L968.5 241.0L967.9 240.8M966.4 244.1L965.7 243.4L966.0 242.9M962.2 248.3L961.7 247.5L961.0 247.4M958.4 252.1L957.6 251.3L957.9 250.7M955.5 254.6L955.2 253.8L955.3 253.5M952.6 257.1L952.3 256.2L951.2 256.1M948.5 263.0L948.0 262.7L946.7 262.3M947.0 269.2L946.3 268.9L945.7 269.3M944.2 275.0L943.4 274.9L943.1 274.2M942.2 279.1L942.1 278.7L941.1 279.1M929.6 280.8L929.2 281.5L929.4 281.5M924.8 275.1L924.4 275.1L923.9 275.2M924.7 269.2L924.1 269.2L924.0 268.8M926.9 264.6L926.4 264.7L926.3 263.9M932.4 256.6L932.1 256.2L931.5 255.8M936.5 251.5L935.8 250.8L935.2 251.1M942.2 245.8L942.0 245.5L941.7 245.4M920.4 210.4L920.2 210.9L919.7 210.6M924.7 219.0L923.8 219.3L923.4 219.7M932.5 225.8L931.8 226.1L932.0 226.5M940.5 230.0L940.3 230.6L940.4 230.9M946.0 231.2L945.9 231.2L946.3 231.9M955.5 231.2L955.6 231.5L955.1 232.3M961.1 230.1L961.0 230.8L961.3 230.8M966.7 228.0L966.8 228.2L966.5 229.2M558.6 629.4L557.5 627.9L556.3 627.4M554.0 632.3L553.1 631.2L551.7 630.5M545.9 637.3L545.5 636.5L544.7 635.1M540.0 641.0L539.4 640.4L538.3 639.8M532.5 644.7L532.2 644.0L530.9 643.6M525.8 648.8L525.7 647.5L525.7 646.5M522.0 651.5L521.1 651.0L519.8 649.9M515.6 658.2L514.3 657.7L512.6 657.8M512.9 662.2L511.8 661.6L511.1 660.7M509.5 670.8L508.8 670.7L508.0 669.9M572.3 621.2L572.3 620.5L572.1 619.5M580.2 621.5L580.7 620.8L581.2 619.7M584.8 622.1L585.3 620.9L586.2 620.2M590.4 622.8L590.7 622.2L590.2 621.9M596.2 623.3L596.2 622.2L595.3 621.3M603.3 623.9L603.7 622.8L604.2 622.6M610.0 625.6L610.1 624.9L610.6 624.7"/>
<path class="ck" d="M826.5 649.6L827.9 650.0L829.1 650.1L830.8 650.4L832.5 649.2L833.7 648.6L834.9 647.5L836.0 646.9L837.3 646.8L839.1 646.8L839.6 645.4L841.6 644.8L843.5 644.5L843.7 643.3L845.3 642.0L845.7 640.4L847.3 639.6L849.3 640.1L851.3 640.0L852.5 641.2L854.3 642.1L855.5 643.7L856.9 644.4M829.1 651.1L830.3 650.8L831.9 651.1L833.4 650.1L834.6 649.7L835.9 649.1L837.1 648.5L838.2 647.1L840.0 647.4L841.0 647.1L842.6 646.7L844.1 645.9M844.7 644.8L845.1 643.0L845.7 641.2L847.2 640.5L848.6 639.6L850.4 639.2L852.3 639.2L853.5 640.5L855.0 641.8M858.8 650.0L858.0 652.0L858.0 653.9L859.3 655.4L859.7 657.2L860.9 658.5L859.1 658.2L857.5 657.7L858.1 655.9L857.7 654.3L857.8 652.7L858.0 650.8M835.3 636.1L836.3 636.9M839.6 637.6L840.8 638.4M838.1 640.3L838.9 641.4M852.2 649.6L853.1 650.8M853.7 654.3L854.6 655.4M847.9 661.6L849.3 662.2L850.0 663.6L851.4 663.6L851.8 665.1L852.7 666.2L852.9 667.1L852.0 668.1L851.1 668.9L850.5 666.9M845.6 673.4L847.3 672.4L848.2 674.2L849.3 675.6L850.5 676.5L851.9 677.6L852.5 679.0L853.0 680.6L853.9 681.4L854.5 682.9L855.0 684.3L856.0 685.4L857.5 686.4L858.1 687.8L859.5 688.6L860.3 690.2L861.1 691.5L861.8 692.6L862.8 693.9L862.3 695.9L862.6 697.2L863.7 698.7L862.1 700.3L861.5 701.6L859.9 701.9L858.4 701.0L858.3 699.1L857.7 698.0L857.5 696.7L856.5 695.5L856.2 694.3L854.5 693.4L853.2 691.9L852.0 690.3L851.1 689.6L849.7 689.5L848.3 688.9L846.4 687.5L844.8 686.9L843.8 686.3L842.3 685.5L843.6 684.4L845.6 684.1L846.1 682.0L846.2 680.0L846.3 677.9L846.1 676.4L845.2 674.9ZM858.4 675.7L859.9 674.5L861.7 673.9L863.0 673.0L864.8 672.1L863.7 673.5L862.5 674.5L861.4 675.8L859.7 676.3M867.8 666.9L867.7 664.9L868.7 663.5L869.9 662.7L871.4 661.5L873.3 662.9L874.9 663.5L876.5 664.6L878.5 665.0L879.9 666.8L880.8 668.0L882.2 669.1L882.0 671.0L882.8 672.3L882.4 674.0L883.1 675.2L883.1 676.6M868.1 665.9L868.7 664.5L870.5 664.1L871.1 663.0L872.9 663.7L874.4 664.6L875.8 664.7L877.1 665.5L878.6 665.9L879.8 667.2L880.8 668.9L881.0 670.3L882.1 671.3L882.2 672.9M871.5 676.3L872.5 677.9L872.6 679.3L872.5 681.2L873.5 682.2L874.7 683.2L876.1 683.6L876.8 684.7L878.0 685.8L879.2 686.4L880.0 687.5L881.9 688.3L883.2 689.1L883.8 690.3L885.4 691.0L886.5 691.9L887.2 693.0L888.7 693.6L890.2 694.7L891.3 695.6L892.3 696.3L893.6 696.9L894.9 697.0L896.7 696.9L898.2 696.9L900.0 697.4M890.6 696.5L892.2 697.3L893.6 698.1L895.4 698.4L897.2 698.0M890.6 674.8L891.9 675.9L893.2 675.6L894.2 676.8L895.4 677.7L896.6 678.5L897.9 679.7L898.6 680.5L899.0 681.9L899.8 682.8L898.8 683.2L897.8 683.4M886.9 676.6L888.8 677.4M902.3 691.6L903.6 692.4L904.7 693.4L905.5 694.8L906.5 696.4L907.9 697.4L909.3 698.7L910.4 699.7L911.5 700.8L912.2 701.9L913.2 703.6L915.0 704.8M906.6 700.6L908.3 701.3L910.3 701.0L911.5 702.8L913.5 703.6M914.6 679.6L915.8 679.5L916.2 680.6L916.3 681.7L915.0 683.4L914.2 681.4ZM909.4 689.4L911.6 689.0M904.9 687.1L906.0 687.9M868.1 692.0L868.9 692.8M931.9 695.4L934.1 695.0M925.9 704.8L927.6 705.0L928.1 706.1L929.5 706.8L929.8 708.2L929.5 710.0L929.1 711.9M937.5 703.6L938.7 703.2L940.3 703.1M946.9 704.8L948.6 704.3L950.5 703.5L952.2 704.3L953.5 704.5L955.3 704.8L953.6 706.3L951.9 706.0L950.2 706.9L949.1 706.2L948.0 705.5ZM963.8 715.3L965.0 713.9L966.0 711.9L966.9 710.6L968.5 709.8L969.8 709.0L971.1 708.2L972.0 708.1M964.7 713.8L966.0 713.0L967.2 711.4L969.1 711.9L969.8 710.8L968.4 712.3M897.2 705.3L896.8 707.2M896.6 709.1L897.0 710.9M897.4 712.3L897.8 714.1"/>
<path class="bl" d="M955.4 201.0L955.9 195.4L957.8 191.6L959.1 192.6L957.6 196.9L956.9 201.0Z"/>
<path class="bl" d="M786.6 699.1L789.4 697.3L793.1 695.0L795.4 695.4L792.2 697.3L788.4 699.1ZM824.4 667.6L825.9 667.6L825.9 669.1L824.4 669.1ZM832.1 644.8L834.0 644.6L834.2 646.3L832.3 646.4Z"/>
<path class="bl" d="M270.9 679.6L271.9 679.3L272.3 682.3L271.1 683.0Z"/>
<path class="st" d="M192.0 216.2L198.1 217.9L204.2 219.5L210.3 221.1L216.4 222.7L222.5 224.3L228.7 225.8L234.8 227.3L241.0 228.7L247.2 230.1L253.4 231.5L259.5 232.9L265.7 234.2L271.9 235.5L278.1 236.7L284.3 237.9L290.6 239.1L296.8 240.2L303.0 241.3L309.3 242.4L315.5 243.5L321.7 244.5L328.0 245.4L334.3 246.4L340.5 247.3L346.8 248.1L353.1 249.0L359.3 249.7L365.6 250.5L371.9 251.2L378.2 251.9L384.5 252.6L390.8 253.2L397.1 253.8L403.4 254.3L409.7 254.9L416.0 255.3L422.3 255.8L428.7 256.2L435.0 256.6L441.3 256.9L447.6 257.2L453.9 257.5L460.3 257.8L466.6 258.0L472.9 258.1L479.2 258.3L485.6 258.4L491.9 258.4L498.2 258.5L504.6 258.4L510.9 258.4L517.2 258.3L523.5 258.2L529.9 258.1L536.2 257.9M262.1 233.4L251.7 281.7M225.0 283.9L231.6 285.5L238.3 287.0L244.9 288.4L251.6 289.9M136.5 339.0L143.3 341.0L150.1 343.0L157.0 344.9L163.9 346.8L170.8 348.6L177.6 350.5L184.5 352.2L191.5 354.0L198.4 355.7L205.3 357.3L212.2 359.0L219.2 360.6L226.1 362.1L233.1 363.6L240.1 365.1L247.1 366.5L254.1 367.9L261.1 369.3L268.1 370.6L275.1 371.8L282.1 373.1L289.1 374.3L296.1 375.4L303.2 376.5L310.2 377.6L317.3 378.7M234.4 363.9L241.7 329.6M193.6 354.5L180.0 409.6L243.4 500.8M275.7 372.0L258.9 465.1L256.3 480.0M258.9 465.1L266.5 466.4L274.2 467.7L281.8 469.0L289.4 470.2L297.1 471.3L304.7 472.4L312.4 473.5L320.0 474.6L327.7 475.6L335.4 476.5L343.0 477.4L350.7 478.3L358.4 479.1L366.1 479.9L373.8 480.6L381.5 481.3L389.2 481.9L396.9 482.5L404.6 483.1L412.3 483.6L420.0 484.1L427.8 484.5L435.5 484.9L443.2 485.3L450.9 485.6L458.6 485.8L466.4 486.0L474.1 486.2L481.8 486.3L489.6 486.4L497.3 486.4L505.0 486.4L512.8 486.4L520.5 486.3L528.2 486.2L535.9 486.0L543.7 485.8L551.4 485.5M324.0 332.1L317.3 378.7L314.6 397.4M325.4 322.3L324.0 332.1M314.6 397.4L322.1 398.5L329.5 399.5L337.0 400.5L344.5 401.4L352.1 402.3L359.6 403.1L367.1 403.9L374.6 404.7L382.1 405.4L389.7 406.0L397.2 406.7L404.7 407.2L412.3 407.8L419.8 408.3L427.4 408.7L434.9 409.1L442.5 409.5M342.8 401.2L333.7 476.3L320.6 583.1M325.4 322.3L332.1 323.3L338.7 324.2L345.4 325.0L352.1 325.9L358.8 326.7L365.5 327.4L372.2 328.2L378.9 328.8L385.6 329.5L392.3 330.1L399.0 330.7L405.7 331.2L412.4 331.7L419.1 332.2M424.1 255.9L420.3 314.2L419.1 332.2L416.4 370.1L413.9 407.9M442.5 409.5L441.6 428.4L439.2 485.1M441.6 428.4L449.1 428.7L456.6 429.0L464.2 429.2L471.7 429.4L479.2 429.5L486.7 429.6L494.2 429.7L501.7 429.7L509.2 429.7L516.7 429.6L524.3 429.5L531.8 429.3L539.3 429.1M551.7 495.0L551.4 485.5L550.1 445.8M424.8 484.4L424.2 493.8M423.6 493.8L431.3 494.2L439.0 494.6L446.7 494.9L454.4 495.1L462.2 495.4L469.9 495.6M469.9 495.6L469.1 532.3M423.6 493.8L418.5 579.1M418.5 579.1L410.3 578.6L402.1 578.1L393.9 577.5L385.7 576.9L377.6 576.2L369.4 575.5L361.2 574.8M362.3 579.0L353.2 578.1L344.2 577.2L335.2 576.2L334.2 584.7L334.2 584.7L320.6 583.1M320.6 583.1L312.4 582.1L304.2 581.0L296.1 579.9L287.9 578.8L231.8 547.0M234.1 543.1L195.6 539.0M420.2 314.3L427.3 314.8L434.4 315.2L441.5 315.6L448.5 315.9L455.6 316.2L462.7 316.4L469.8 316.6L476.9 316.8L484.0 316.9L491.0 317.0L498.1 317.0L505.2 317.0L512.3 316.9L519.4 316.8M416.4 370.1L423.4 370.5L430.4 370.9L437.4 371.3L444.4 371.6L451.4 371.9L458.4 372.2L465.4 372.4L472.4 372.6L479.4 372.7L486.4 372.8L493.4 372.9M521.1 329.0L521.6 363.2M519.6 363.2L527.0 363.1L534.4 362.9L541.8 362.7L549.2 362.4L556.6 362.1L564.0 361.8L571.4 361.4L578.8 360.9L586.1 360.4L593.5 359.9M532.4 418.3L539.6 418.1L546.9 417.9L554.1 417.6L561.4 417.3L568.6 416.9L575.9 416.5L583.1 416.1L590.3 415.6M551.7 495.0L560.2 494.6L568.7 494.2L577.2 493.8L585.7 493.3L594.2 492.7L602.7 492.1L611.2 491.5L619.6 490.8M551.7 495.0L555.5 515.9L555.8 549.1M563.0 550.5L563.4 560.6L564.3 580.2M563.5 560.9L572.6 560.5L581.7 560.0L590.9 559.5L600.0 558.9L609.2 558.2M604.5 596.8L614.8 596.0L625.2 595.2L635.5 594.3M653.8 516.2L654.2 575.2L658.4 603.5M619.8 519.5L627.7 518.8L635.7 518.0L643.6 517.2L651.6 516.4L659.5 515.5L667.4 514.6L675.3 513.6L683.3 512.6L691.2 511.6L699.1 510.5L707.0 509.3L714.9 508.1L722.7 506.9L730.6 505.6M692.3 511.6L704.5 550.4M670.2 590.7L678.7 589.7L687.1 588.7L695.5 587.6L704.0 586.4L712.4 585.2M661.0 483.9L679.7 481.6L698.4 479.0L717.0 476.1L717.2 477.0L727.1 475.4L737.1 473.7L747.1 471.9L747.2 472.7L755.1 471.3L763.0 469.8L770.9 468.2L778.8 466.6L786.6 465.0L794.5 463.3L802.3 461.6L810.2 459.8L818.0 458.0L825.8 456.1L833.6 454.2M752.5 361.9L753.4 366.5L753.4 366.5L760.4 365.1L767.3 363.7L774.3 362.1L781.2 360.6L788.1 359.0L795.0 357.4L801.9 355.8L808.8 354.1L815.7 352.3M744.9 368.6L753.1 410.6L753.1 410.6L760.6 409.1L768.1 407.6L775.6 406.0L783.1 404.4L790.5 402.7L798.0 401.0L805.4 399.3L812.9 397.5L820.3 395.7M820.3 395.7L827.3 418.5L827.3 418.5L836.7 416.1M686.1 384.0L693.1 432.7M686.1 384.0L705.1 380.5M657.8 386.7L664.9 385.8L671.9 384.8L679.0 383.9L686.0 382.9M648.0 389.0L653.1 433.2M603.0 378.2L610.9 377.5L618.8 376.8L626.7 376.0L634.6 375.2L642.5 374.4M810.3 294.9L817.2 293.1L824.1 291.2L831.0 289.3L837.9 287.3L844.8 285.3L851.7 283.3"/>
</g>
<rect x="115.8" y="186.4" width="870.80" height="529.70" fill="none" stroke="#000" stroke-width="1.4"/>
<path class="tk" d="M98.3 273.0H115.8M98.3 372.1H115.8M98.3 470.6H115.8M98.3 569.6H115.8M98.3 670.0H115.8M986.6 233.9H1004.2M986.6 336.6H1004.2M986.6 438.0H1004.2M986.6 538.9H1004.2M986.6 640.5H1004.2M235.1 168.9V186.4M417.7 168.9V186.4M594.8 168.9V186.4M778.4 168.9V186.4M977.5 168.9V186.4M287.3 716.1V733.6M464.8 716.1V733.6M641.8 716.1V733.6M822.2 716.1V733.6"/>
<text transform="translate(79.8,283.00) scale(1,1.02)" font-size="28.5" text-anchor="end" stroke="#000" stroke-width="0.4">45°N</text>
<text transform="translate(79.8,382.10) scale(1,1.02)" font-size="28.5" text-anchor="end" stroke="#000" stroke-width="0.4">40°N</text>
<text transform="translate(79.8,480.60) scale(1,1.02)" font-size="28.5" text-anchor="end" stroke="#000" stroke-width="0.4">35°N</text>
<text transform="translate(79.8,579.60) scale(1,1.02)" font-size="28.5" text-anchor="end" stroke="#000" stroke-width="0.4">30°N</text>
<text transform="translate(79.8,680.00) scale(1,1.02)" font-size="28.5" text-anchor="end" stroke="#000" stroke-width="0.4">25°N</text>
<text transform="translate(285.9,762.2) scale(1,1.065)" font-size="27.9" text-anchor="middle" stroke="#000" stroke-width="0.4">110°W</text>
<text transform="translate(463.9,762.2) scale(1,1.065)" font-size="27.9" text-anchor="middle" stroke="#000" stroke-width="0.4">100°W</text>
<text transform="translate(641.2,762.2) scale(1,1.065)" font-size="27.9" text-anchor="middle" stroke="#000" stroke-width="0.4">90°W</text>
<text transform="translate(821.7,762.2) scale(1,1.065)" font-size="27.9" text-anchor="middle" stroke="#000" stroke-width="0.4">80°W</text>
<rect x="195.50" y="800.0" width="32.63" height="43.299999999999955" fill="#FFFFFF"/>
<rect x="227.83" y="800.0" width="32.63" height="43.299999999999955" fill="#DFF2FC"/>
<rect x="260.15" y="800.0" width="32.63" height="43.299999999999955" fill="#BEE6F8"/>
<rect x="292.48" y="800.0" width="32.63" height="43.299999999999955" fill="#9DD9F5"/>
<rect x="324.81" y="800.0" width="32.63" height="43.299999999999955" fill="#81BEE5"/>
<rect x="357.14" y="800.0" width="32.63" height="43.299999999999955" fill="#66A6D9"/>
<rect x="389.46" y="800.0" width="32.63" height="43.299999999999955" fill="#4A8DC8"/>
<rect x="421.79" y="800.0" width="32.63" height="43.299999999999955" fill="#4A9A9E"/>
<rect x="454.12" y="800.0" width="32.63" height="43.299999999999955" fill="#48A572"/>
<rect x="486.45" y="800.0" width="32.63" height="43.299999999999955" fill="#4AB349"/>
<rect x="518.77" y="800.0" width="32.63" height="43.299999999999955" fill="#80C44E"/>
<rect x="551.10" y="800.0" width="32.63" height="43.299999999999955" fill="#C3D858"/>
<rect x="583.43" y="800.0" width="32.63" height="43.299999999999955" fill="#F8E75C"/>
<rect x="615.75" y="800.0" width="32.63" height="43.299999999999955" fill="#F8BD4A"/>
<rect x="648.08" y="800.0" width="32.63" height="43.299999999999955" fill="#F8973A"/>
<rect x="680.41" y="800.0" width="32.63" height="43.299999999999955" fill="#F56E2A"/>
<rect x="712.74" y="800.0" width="32.63" height="43.299999999999955" fill="#EB5829"/>
<rect x="745.06" y="800.0" width="32.63" height="43.299999999999955" fill="#E03B28"/>
<rect x="777.39" y="800.0" width="32.63" height="43.299999999999955" fill="#D21F29"/>
<rect x="809.72" y="800.0" width="32.63" height="43.299999999999955" fill="#BA1C23"/>
<rect x="842.05" y="800.0" width="32.63" height="43.299999999999955" fill="#A5191F"/>
<rect x="874.37" y="800.0" width="32.63" height="43.299999999999955" fill="#8E141A"/>
<path d="M227.83 800.0V843.3M260.15 800.0V843.3M292.48 800.0V843.3M324.81 800.0V843.3M357.14 800.0V843.3M389.46 800.0V843.3M421.79 800.0V843.3M454.12 800.0V843.3M486.45 800.0V843.3M518.77 800.0V843.3M551.10 800.0V843.3M583.43 800.0V843.3M615.75 800.0V843.3M648.08 800.0V843.3M680.41 800.0V843.3M712.74 800.0V843.3M745.06 800.0V843.3M777.39 800.0V843.3M809.72 800.0V843.3M842.05 800.0V843.3M874.37 800.0V843.3" stroke="#000" stroke-width="0.6" fill="none"/>
<rect x="195.5" y="800.0" width="711.2" height="43.299999999999955" fill="none" stroke="#808080" stroke-width="0.8"/>
<text x="227.83" y="869.6" font-size="20.2" text-anchor="middle" stroke="#000" stroke-width="0.2">0</text>
<text x="260.15" y="869.6" font-size="20.2" text-anchor="middle" stroke="#000" stroke-width="0.2">0.2</text>
<text x="292.48" y="869.6" font-size="20.2" text-anchor="middle" stroke="#000" stroke-width="0.2">0.4</text>
<text x="324.81" y="869.6" font-size="20.2" text-anchor="middle" stroke="#000" stroke-width="0.2">0.6</text>
<text x="357.14" y="869.6" font-size="20.2" text-anchor="middle" stroke="#000" stroke-width="0.2">0.8</text>
<text x="389.46" y="869.6" font-size="20.2" text-anchor="middle" stroke="#000" stroke-width="0.2">1</text>
<text x="421.79" y="869.6" font-size="20.2" text-anchor="middle" stroke="#000" stroke-width="0.2">1.2</text>
<text x="454.12" y="869.6" font-size="20.2" text-anchor="middle" stroke="#000" stroke-width="0.2">1.4</text>
<text x="486.45" y="869.6" font-size="20.2" text-anchor="middle" stroke="#000" stroke-width="0.2">1.6</text>
<text x="518.77" y="869.6" font-size="20.2" text-anchor="middle" stroke="#000" stroke-width="0.2">1.8</text>
<text x="551.10" y="869.6" font-size="20.2" text-anchor="middle" stroke="#000" stroke-width="0.2">2</text>
<text x="583.43" y="869.6" font-size="20.2" text-anchor="middle" stroke="#000" stroke-width="0.2">2.2</text>
<text x="615.75" y="869.6" font-size="20.2" text-anchor="middle" stroke="#000" stroke-width="0.2">2.4</text>
<text x="648.08" y="869.6" font-size="20.2" text-anchor="middle" stroke="#000" stroke-width="0.2">2.6</text>
<text x="680.41" y="869.6" font-size="20.2" text-anchor="middle" stroke="#000" stroke-width="0.2">2.8</text>
<text x="712.74" y="869.6" font-size="20.2" text-anchor="middle" stroke="#000" stroke-width="0.2">3</text>
<text x="745.06" y="869.6" font-size="20.2" text-anchor="middle" stroke="#000" stroke-width="0.2">3.2</text>
<text x="777.39" y="869.6" font-size="20.2" text-anchor="middle" stroke="#000" stroke-width="0.2">3.4</text>
<text x="809.72" y="869.6" font-size="20.2" text-anchor="middle" stroke="#000" stroke-width="0.2">3.6</text>
<text x="842.05" y="869.6" font-size="20.2" text-anchor="middle" stroke="#000" stroke-width="0.2">3.8</text>
<text x="874.37" y="869.6" font-size="20.2" text-anchor="middle" stroke="#000" stroke-width="0.2">4</text>
</svg>
</body></html>
